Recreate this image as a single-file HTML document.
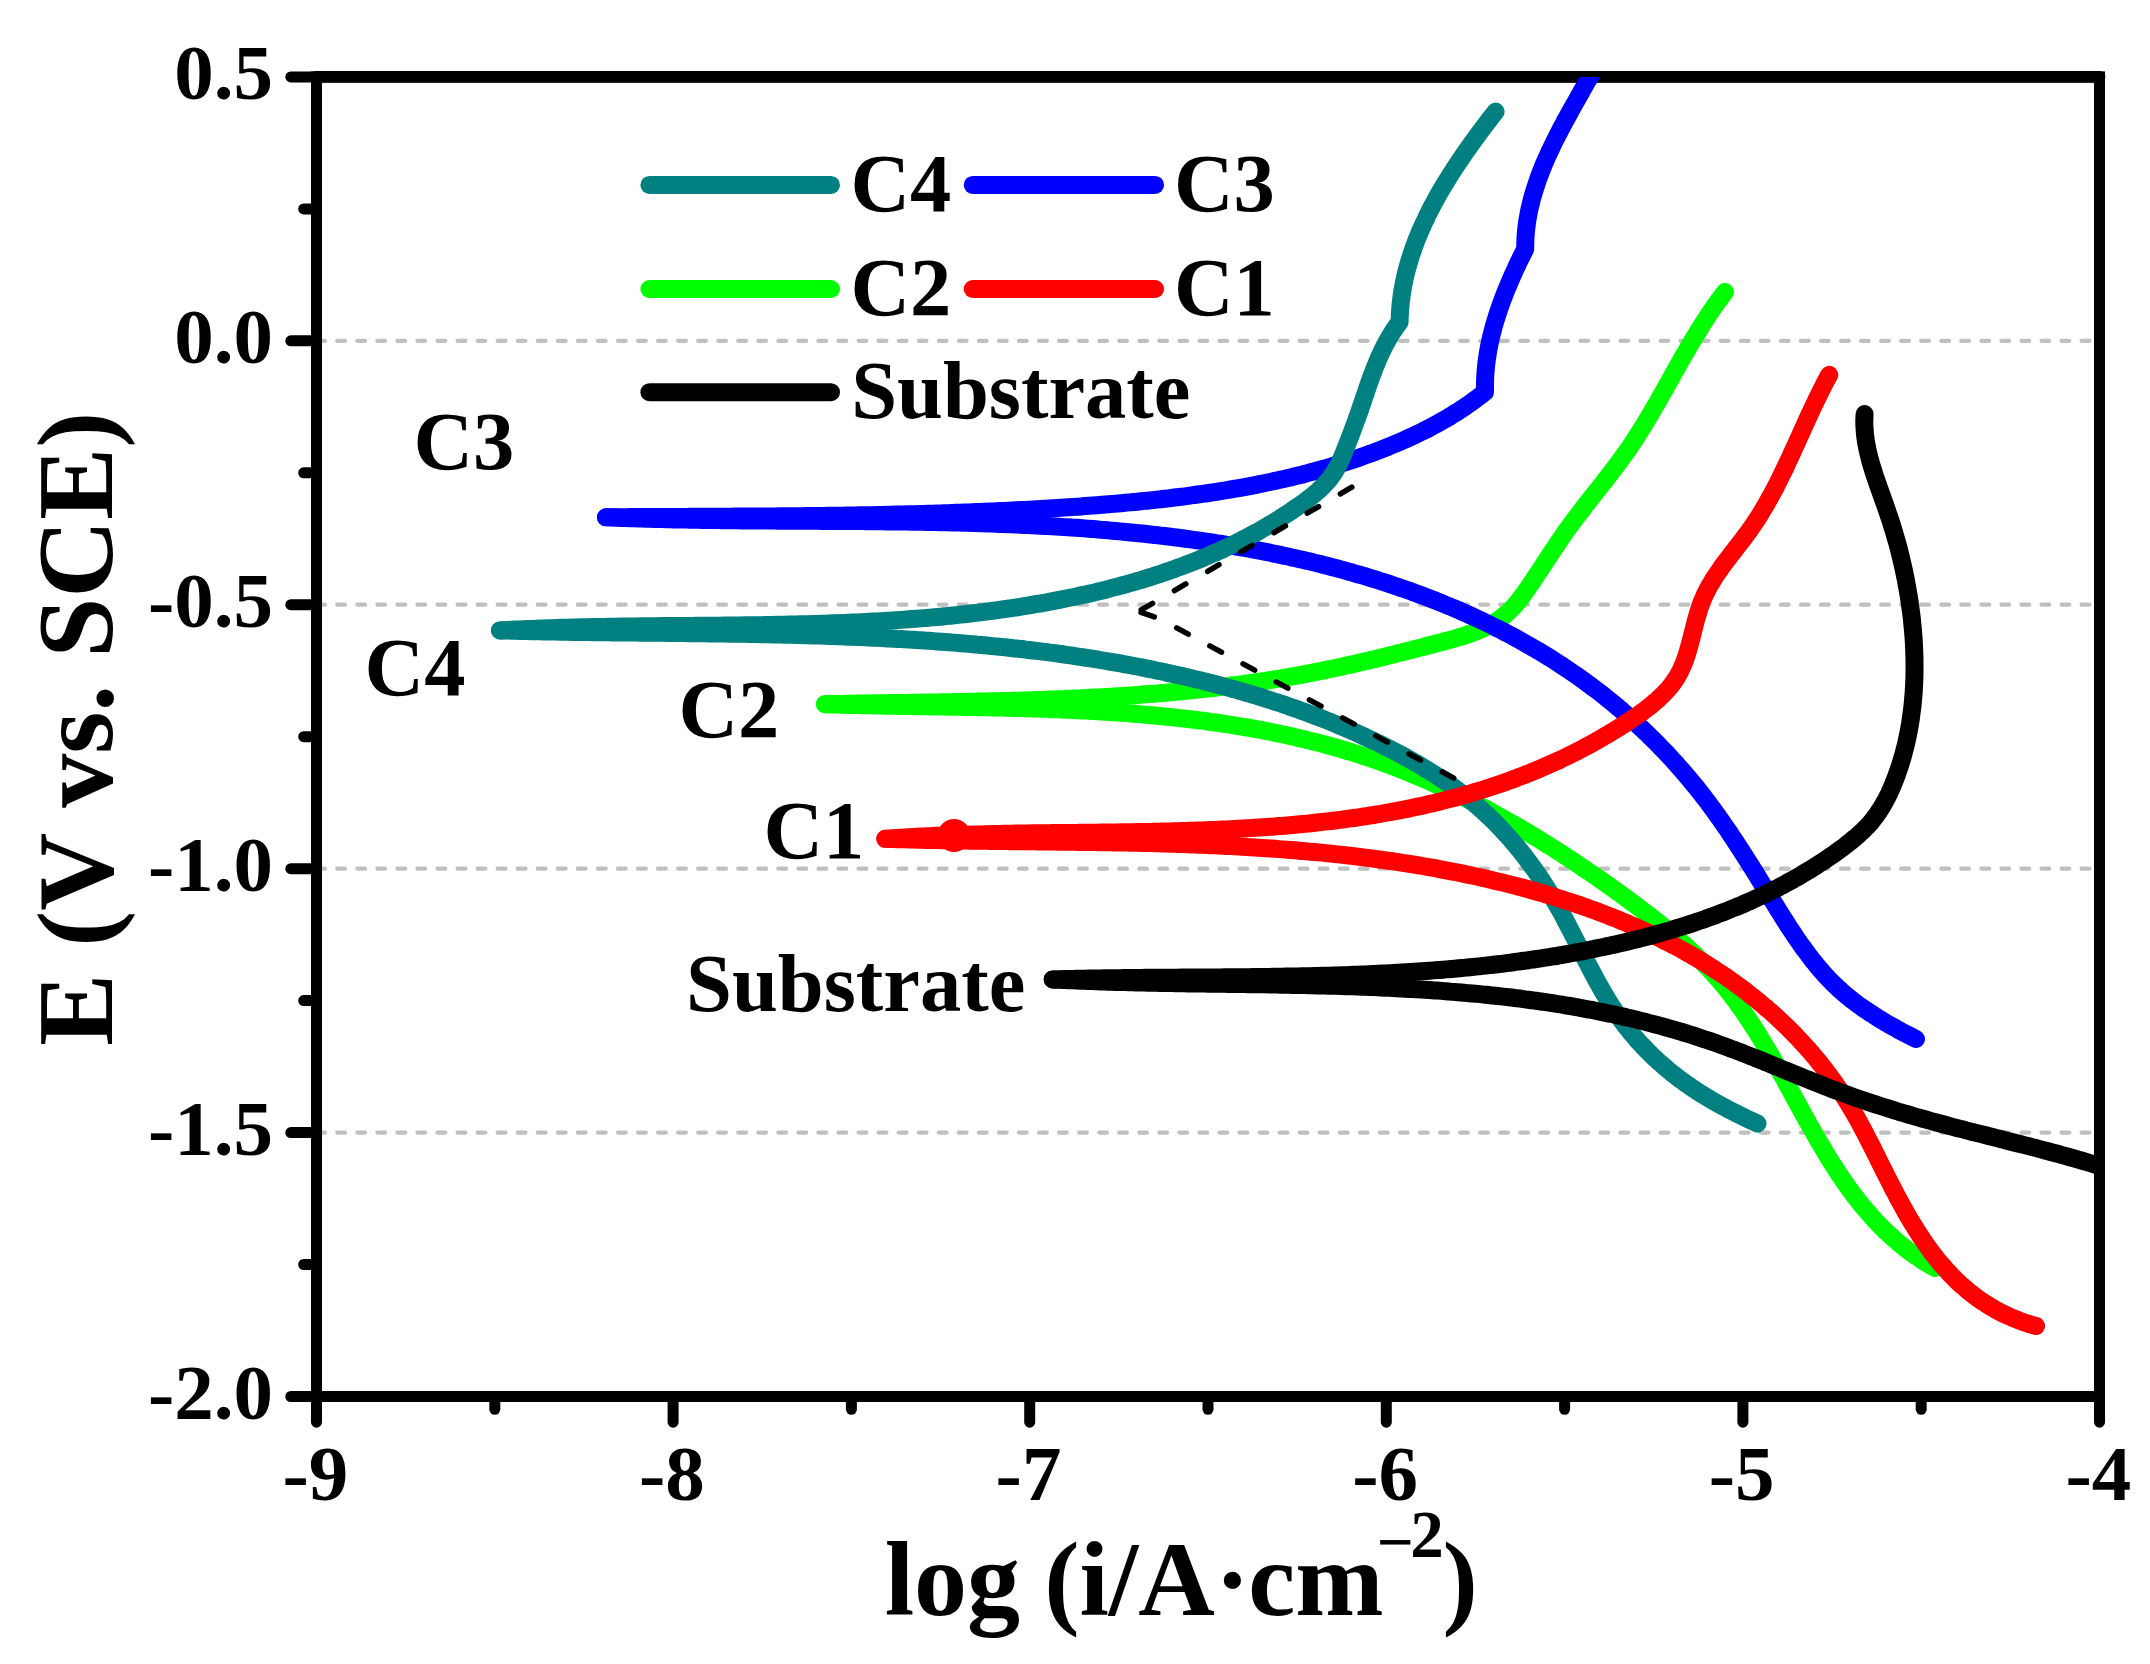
<!DOCTYPE html>
<html lang="en"><head><meta charset="utf-8"><title>Polarization curves</title>
<style>
html,body{margin:0;padding:0;background:#fff;}
body{width:2150px;height:1664px;overflow:hidden;}
svg{display:block;}
text{font-family:"Liberation Serif","Times New Roman",serif;font-weight:bold;fill:#000;}
.tk{font-size:79px;}
.lb{font-size:82.5px;}
.ax{font-size:108px;}
</style></head><body>
<svg width="2150" height="1664" viewBox="0 0 2150 1664">
<rect width="2150" height="1664" fill="#fff"/>

<g stroke="#c0c0c0" stroke-width="4.2" stroke-linecap="round" stroke-dasharray="7.8 12.25" fill="none">
<path d="M317.2 340.8 H2092.5"/>
<path d="M317.2 604.7 H2092.5"/>
<path d="M317.2 868.7 H2092.5"/>
<path d="M317.2 1132.6 H2092.5"/>
</g>
<g fill="none" stroke="#000" stroke-width="11" stroke-linecap="round">
<rect x="316.5" y="76.9" width="1783.0" height="1319.6" stroke-linejoin="miter"/>
<path d="M316.5 76.85 H2099.5" stroke-width="11.9"/>
<path d="M316.5 76.9 H290.8"/>
<path d="M316.5 208.9 H303.7"/>
<path d="M316.5 340.8 H290.8"/>
<path d="M316.5 472.8 H303.7"/>
<path d="M316.5 604.7 H290.8"/>
<path d="M316.5 736.7 H303.7"/>
<path d="M316.5 868.7 H290.8"/>
<path d="M316.5 1000.6 H303.7"/>
<path d="M316.5 1132.6 H290.8"/>
<path d="M316.5 1264.5 H303.7"/>
<path d="M316.5 1396.5 H290.8"/>
<path d="M316.5 1396.5 V1422.2"/>
<path d="M494.8 1396.5 V1409.3"/>
<path d="M673.1 1396.5 V1422.2"/>
<path d="M851.4 1396.5 V1409.3"/>
<path d="M1029.7 1396.5 V1422.2"/>
<path d="M1208.0 1396.5 V1409.3"/>
<path d="M1386.3 1396.5 V1422.2"/>
<path d="M1564.6 1396.5 V1409.3"/>
<path d="M1742.9 1396.5 V1422.2"/>
<path d="M1921.2 1396.5 V1409.3"/>
<path d="M2099.5 1396.5 V1422.2"/>
</g>
<defs><clipPath id="pc"><rect x="316.5" y="76.9" width="1783.0" height="1319.6"/></clipPath></defs>
<g clip-path="url(#pc)" fill="none" stroke-width="18" stroke-linecap="round" stroke-linejoin="round">
<g stroke="#00ff00"><path d="M1725.0 292.0 C1723.4 294.1 1723.3 294.1 1720.2 298.4 C1717.0 302.7 1718.6 300.5 1715.5 304.9 C1712.4 309.2 1713.9 307.0 1710.9 311.5 C1707.9 315.9 1709.4 313.7 1706.5 318.1 C1703.5 322.6 1705.0 320.3 1702.1 324.9 C1699.3 329.4 1700.7 327.1 1697.9 331.7 C1695.1 336.2 1696.5 333.9 1693.7 338.5 C1691.0 343.1 1692.3 340.8 1689.6 345.4 C1686.9 350.0 1688.3 347.7 1685.6 352.4 C1682.9 357.0 1684.2 354.7 1681.6 359.3 C1678.9 364.0 1680.3 361.7 1677.6 366.3 C1675.0 371.0 1676.3 368.7 1673.7 373.3 C1671.1 378.0 1672.4 375.7 1669.8 380.4 C1667.1 385.0 1668.5 382.7 1665.8 387.4 C1663.2 392.1 1664.5 389.7 1661.9 394.4 C1659.3 399.0 1660.6 396.7 1657.9 401.4 C1655.3 406.0 1656.6 403.7 1653.9 408.3 C1651.2 413.0 1652.6 410.7 1649.8 415.3 C1647.1 419.9 1648.5 417.6 1645.7 422.1 C1643.0 426.7 1644.4 424.4 1641.5 429.0 C1638.7 433.5 1640.1 431.3 1637.2 435.8 C1634.4 440.2 1635.8 438.0 1632.9 442.5 C1629.9 446.9 1631.4 444.7 1628.4 449.1 C1625.3 453.5 1626.9 451.3 1623.8 455.6 C1620.7 460.0 1622.2 457.8 1619.0 462.1 C1615.9 466.4 1617.5 464.3 1614.2 468.5 C1611.0 472.8 1612.6 470.6 1609.4 474.9 C1606.1 479.1 1607.7 477.0 1604.4 481.2 C1601.1 485.4 1602.8 483.3 1599.5 487.5 C1596.2 491.7 1597.8 489.6 1594.5 493.8 C1591.2 498.0 1592.8 495.9 1589.5 500.1 C1586.2 504.3 1587.9 502.2 1584.6 506.4 C1581.3 510.7 1582.9 508.6 1579.7 512.8 C1576.4 517.1 1578.0 514.9 1574.8 519.2 C1571.6 523.5 1573.2 521.3 1570.0 525.7 C1566.9 530.0 1568.4 527.8 1565.3 532.2 C1562.3 536.6 1563.8 534.4 1560.8 538.8 C1557.7 543.2 1559.2 541.0 1556.3 545.5 C1553.3 549.9 1554.8 547.7 1551.8 552.2 C1548.9 556.6 1550.3 554.4 1547.4 558.9 C1544.5 563.3 1545.9 561.1 1543.0 565.6 C1540.1 570.1 1541.5 567.8 1538.6 572.3 C1535.6 576.7 1537.1 574.5 1534.1 579.0 C1531.2 583.4 1532.7 581.2 1529.6 585.6 C1526.6 590.0 1528.2 587.8 1525.1 592.1 C1522.0 596.4 1523.6 594.3 1520.4 598.5 C1517.1 602.7 1518.8 600.7 1515.4 604.6 C1512.0 608.6 1513.8 606.7 1510.0 610.3 C1506.3 614.0 1508.3 612.2 1504.3 615.5 C1500.3 618.8 1502.3 617.2 1498.1 620.1 C1493.8 623.1 1496.0 621.7 1491.5 624.2 C1487.0 626.8 1489.3 625.6 1484.5 627.8 C1479.8 630.1 1482.2 629.0 1477.3 631.0 C1472.3 633.0 1474.8 632.0 1469.8 633.8 C1464.7 635.6 1467.2 634.7 1462.1 636.3 C1456.9 637.9 1459.5 637.1 1454.3 638.6 C1449.0 640.1 1451.6 639.4 1446.4 640.8 C1441.1 642.3 1443.7 641.5 1438.4 642.9 C1433.2 644.3 1435.8 643.6 1430.5 645.0 C1425.3 646.4 1427.9 645.7 1422.6 647.1 C1417.4 648.5 1420.0 647.8 1414.8 649.1 C1409.5 650.5 1412.1 649.8 1406.9 651.1 C1401.6 652.5 1404.3 651.8 1399.0 653.1 C1393.8 654.4 1396.4 653.8 1391.2 655.1 C1385.9 656.4 1388.5 655.7 1383.3 657.0 C1378.1 658.3 1380.7 657.7 1375.5 658.9 C1370.2 660.2 1372.9 659.5 1367.6 660.8 C1362.4 662.0 1365.0 661.4 1359.8 662.6 C1354.6 663.8 1357.2 663.2 1352.0 664.4 C1346.7 665.5 1349.3 665.0 1344.1 666.1 C1338.9 667.2 1341.5 666.7 1336.3 667.8 C1331.1 668.9 1333.7 668.4 1328.4 669.4 C1323.2 670.5 1325.8 670.0 1320.6 671.0 C1315.4 672.1 1318.0 671.6 1312.7 672.6 C1307.5 673.6 1310.1 673.1 1304.9 674.1 C1299.6 675.1 1302.3 674.6 1297.0 675.6 C1291.8 676.5 1294.4 676.0 1289.1 677.0 C1283.9 677.9 1286.5 677.4 1281.2 678.3 C1276.0 679.2 1278.6 678.7 1273.3 679.6 C1268.1 680.4 1270.7 680.0 1265.4 680.8 C1260.2 681.7 1262.8 681.3 1257.5 682.0 C1252.3 682.8 1254.9 682.4 1249.6 683.2 C1244.3 683.9 1247.0 683.6 1241.7 684.3 C1236.4 685.0 1239.0 684.7 1233.7 685.3 C1228.5 686.0 1231.1 685.7 1225.8 686.4 C1220.5 687.0 1223.2 686.7 1217.9 687.3 C1212.5 688.0 1215.2 687.7 1209.9 688.3 C1204.6 688.9 1207.2 688.6 1201.9 689.1 C1196.6 689.7 1199.3 689.4 1194.0 690.0 C1188.6 690.5 1191.3 690.3 1186.0 690.8 C1180.7 691.3 1183.3 691.1 1178.0 691.6 C1172.7 692.1 1175.3 691.8 1170.0 692.3 C1164.7 692.8 1167.4 692.5 1162.0 693.0 C1156.7 693.5 1159.4 693.2 1154.0 693.7 C1148.7 694.1 1151.4 693.9 1146.0 694.3 C1140.7 694.7 1143.4 694.5 1138.0 694.9 C1132.7 695.3 1135.4 695.1 1130.0 695.5 C1124.7 695.8 1127.3 695.6 1122.0 696.0 C1116.7 696.3 1119.3 696.2 1114.0 696.5 C1108.6 696.8 1111.3 696.7 1106.0 697.0 C1100.6 697.3 1103.3 697.1 1097.9 697.4 C1092.6 697.7 1095.3 697.6 1089.9 697.8 C1084.6 698.1 1087.2 698.0 1081.9 698.2 C1076.5 698.5 1079.2 698.4 1073.8 698.6 C1068.5 698.9 1071.2 698.7 1065.8 699.0 C1060.4 699.2 1063.1 699.1 1057.8 699.3 C1052.4 699.5 1055.1 699.4 1049.7 699.6 C1044.4 699.8 1047.1 699.7 1041.7 699.9 C1036.3 700.1 1039.0 700.0 1033.6 700.2 C1028.3 700.3 1031.0 700.3 1025.6 700.4 C1020.2 700.6 1022.9 700.5 1017.6 700.7 C1012.2 700.8 1014.9 700.7 1009.5 700.9 C1004.2 701.0 1006.8 701.0 1001.5 701.1 C996.1 701.2 998.8 701.2 993.4 701.3 C988.1 701.4 990.8 701.3 985.4 701.5 C980.0 701.6 982.7 701.5 977.3 701.6 C972.0 701.7 974.7 701.7 969.3 701.8 C963.9 701.9 966.6 701.9 961.3 702.0 C955.9 702.1 958.6 702.0 953.2 702.1 C947.9 702.2 950.5 702.1 945.2 702.2 C939.8 702.3 942.5 702.3 937.2 702.4 C931.8 702.5 934.5 702.4 929.1 702.5 C923.8 702.6 926.4 702.5 921.1 702.6 C915.7 702.7 918.4 702.7 913.1 702.7 C907.7 702.8 910.4 702.8 905.0 702.9 C899.7 702.9 902.4 702.9 897.0 703.0 C891.7 703.1 894.3 703.0 889.0 703.1 C883.7 703.2 886.3 703.1 881.0 703.2 C875.6 703.3 878.3 703.3 873.0 703.3 C867.6 703.4 870.3 703.4 865.0 703.5 C859.6 703.6 862.3 703.5 857.0 703.6 C851.6 703.7 854.3 703.6 849.0 703.7 C843.6 703.8 846.3 703.8 841.0 703.9 C835.6 704.0 838.3 703.9 833.0 704.0 C827.7 704.1 827.7 704.1 825.0 704.2"/><path d="M825.0 704.2 C827.6 704.3 827.6 704.3 832.9 704.4 C838.1 704.6 835.5 704.5 840.7 704.7 C846.0 704.8 843.3 704.7 848.6 704.9 C853.9 705.0 851.2 704.9 856.5 705.1 C861.8 705.2 859.1 705.1 864.4 705.2 C869.7 705.4 867.1 705.3 872.4 705.4 C877.7 705.5 875.0 705.5 880.3 705.6 C885.6 705.7 883.0 705.6 888.3 705.7 C893.6 705.8 890.9 705.8 896.2 705.8 C901.6 705.9 898.9 705.9 904.2 706.0 C909.5 706.1 906.9 706.0 912.2 706.1 C917.5 706.2 914.9 706.1 920.2 706.2 C925.6 706.3 922.9 706.3 928.2 706.3 C933.6 706.4 930.9 706.4 936.3 706.5 C941.6 706.5 938.9 706.5 944.3 706.6 C949.6 706.7 947.0 706.6 952.3 706.7 C957.7 706.8 955.0 706.7 960.4 706.8 C965.7 706.9 963.1 706.9 968.4 707.0 C973.8 707.1 971.1 707.0 976.5 707.1 C981.9 707.2 979.2 707.2 984.6 707.3 C989.9 707.4 987.2 707.3 992.6 707.4 C998.0 707.5 995.3 707.5 1000.7 707.6 C1006.1 707.7 1003.4 707.7 1008.8 707.8 C1014.2 707.9 1011.5 707.9 1016.9 708.0 C1022.2 708.1 1019.6 708.1 1024.9 708.2 C1030.3 708.4 1027.6 708.3 1033.0 708.5 C1038.4 708.6 1035.7 708.5 1041.1 708.7 C1046.5 708.9 1043.8 708.8 1049.2 709.0 C1054.6 709.2 1051.9 709.1 1057.3 709.3 C1062.7 709.5 1060.0 709.4 1065.4 709.7 C1070.8 709.9 1068.1 709.8 1073.5 710.0 C1078.8 710.3 1076.1 710.1 1081.5 710.4 C1086.9 710.7 1084.2 710.5 1089.6 710.8 C1095.0 711.1 1092.3 711.0 1097.7 711.3 C1103.1 711.6 1100.4 711.4 1105.8 711.8 C1111.1 712.1 1108.5 711.9 1113.8 712.3 C1119.2 712.6 1116.5 712.4 1121.9 712.8 C1127.3 713.2 1124.6 713.0 1129.9 713.4 C1135.3 713.8 1132.6 713.6 1138.0 714.1 C1143.3 714.5 1140.7 714.3 1146.0 714.7 C1151.4 715.2 1148.7 715.0 1154.1 715.4 C1159.4 715.9 1156.7 715.7 1162.1 716.2 C1167.4 716.7 1164.8 716.5 1170.1 717.0 C1175.4 717.6 1172.8 717.3 1178.1 717.9 C1183.4 718.5 1180.8 718.2 1186.1 718.8 C1191.4 719.4 1188.8 719.1 1194.1 719.7 C1199.4 720.4 1196.7 720.0 1202.0 720.7 C1207.4 721.4 1204.7 721.1 1210.0 721.8 C1215.3 722.5 1212.7 722.1 1217.9 722.9 C1223.2 723.7 1220.6 723.3 1225.9 724.1 C1231.2 724.9 1228.5 724.5 1233.8 725.3 C1239.1 726.1 1236.4 725.7 1241.7 726.6 C1247.0 727.5 1244.3 727.0 1249.6 727.9 C1254.8 728.9 1252.2 728.4 1257.5 729.4 C1262.7 730.3 1260.1 729.8 1265.3 730.8 C1270.5 731.8 1267.9 731.3 1273.1 732.4 C1278.4 733.4 1275.8 732.9 1281.0 734.0 C1286.2 735.1 1283.6 734.5 1288.8 735.7 C1293.9 736.8 1291.4 736.2 1296.5 737.4 C1301.7 738.6 1299.1 738.0 1304.3 739.3 C1309.5 740.5 1306.9 739.9 1312.0 741.2 C1317.2 742.5 1314.6 741.8 1319.7 743.1 C1324.9 744.5 1322.3 743.8 1327.4 745.2 C1332.6 746.6 1330.0 745.9 1335.1 747.3 C1340.2 748.8 1337.7 748.0 1342.7 749.6 C1347.8 751.1 1345.3 750.3 1350.4 751.8 C1355.4 753.4 1352.9 752.6 1358.0 754.2 C1363.0 755.8 1360.5 755.0 1365.5 756.7 C1370.6 758.4 1368.1 757.5 1373.1 759.3 C1378.1 761.0 1375.6 760.1 1380.6 761.9 C1385.6 763.7 1383.1 762.8 1388.1 764.6 C1393.1 766.5 1390.6 765.5 1395.6 767.4 C1400.5 769.4 1398.1 768.4 1403.0 770.3 C1408.0 772.3 1405.5 771.3 1410.4 773.3 C1415.3 775.4 1412.9 774.3 1417.8 776.4 C1422.7 778.5 1420.3 777.4 1425.2 779.6 C1430.0 781.7 1427.6 780.6 1432.5 782.8 C1437.4 785.0 1434.9 783.9 1439.8 786.1 C1444.6 788.3 1442.2 787.2 1447.1 789.5 C1451.9 791.7 1449.5 790.6 1454.3 792.9 C1459.1 795.2 1456.7 794.1 1461.5 796.4 C1466.3 798.8 1463.9 797.6 1468.7 800.0 C1473.5 802.4 1471.1 801.2 1475.9 803.7 C1480.6 806.2 1478.2 804.9 1483.0 807.4 C1487.7 809.9 1485.4 808.7 1490.1 811.2 C1494.8 813.8 1492.5 812.5 1497.2 815.1 C1501.9 817.7 1499.5 816.4 1504.2 819.0 C1508.9 821.6 1506.5 820.3 1511.2 823.0 C1515.9 825.6 1513.6 824.3 1518.2 827.0 C1522.8 829.7 1520.5 828.3 1525.2 831.1 C1529.8 833.8 1527.5 832.4 1532.1 835.2 C1536.7 838.0 1534.4 836.6 1539.0 839.4 C1543.6 842.2 1541.3 840.8 1545.8 843.7 C1550.4 846.5 1548.1 845.1 1552.7 848.0 C1557.2 850.8 1555.0 849.4 1559.5 852.3 C1564.0 855.2 1561.8 853.7 1566.3 856.7 C1570.8 859.6 1568.5 858.1 1573.0 861.1 C1577.5 864.1 1575.3 862.6 1579.7 865.6 C1584.2 868.6 1582.0 867.1 1586.4 870.1 C1590.9 873.1 1588.6 871.6 1593.1 874.6 C1597.5 877.7 1595.3 876.2 1599.7 879.2 C1604.1 882.3 1601.9 880.8 1606.3 883.9 C1610.7 886.9 1608.5 885.4 1612.8 888.5 C1617.2 891.6 1615.0 890.1 1619.4 893.2 C1623.7 896.3 1621.6 894.8 1625.9 897.9 C1630.2 901.1 1628.0 899.5 1632.3 902.7 C1636.6 905.9 1634.5 904.3 1638.8 907.5 C1643.0 910.7 1640.9 909.1 1645.1 912.3 C1649.4 915.5 1647.3 913.9 1651.5 917.2 C1655.6 920.5 1653.6 918.8 1657.7 922.1 C1661.9 925.5 1659.8 923.8 1663.9 927.2 C1668.0 930.5 1666.0 928.8 1670.0 932.2 C1674.1 935.7 1672.1 933.9 1676.1 937.4 C1680.1 940.9 1678.1 939.1 1682.0 942.6 C1686.0 946.2 1684.0 944.4 1687.9 948.0 C1691.8 951.6 1689.8 949.8 1693.7 953.4 C1697.5 957.1 1695.6 955.2 1699.3 958.9 C1703.1 962.7 1701.2 960.8 1704.9 964.6 C1708.5 968.4 1706.7 966.4 1710.3 970.3 C1713.9 974.2 1712.1 972.2 1715.6 976.2 C1719.1 980.2 1717.4 978.2 1720.8 982.2 C1724.2 986.2 1722.5 984.2 1725.9 988.3 C1729.2 992.4 1727.6 990.4 1730.8 994.6 C1734.0 998.8 1732.4 996.7 1735.6 1000.9 C1738.8 1005.2 1737.2 1003.1 1740.3 1007.4 C1743.4 1011.8 1741.9 1009.6 1744.9 1014.0 C1747.9 1018.4 1746.4 1016.2 1749.4 1020.7 C1752.3 1025.1 1750.9 1022.9 1753.8 1027.4 C1756.7 1031.9 1755.2 1029.7 1758.1 1034.2 C1760.9 1038.8 1759.5 1036.5 1762.3 1041.1 C1765.1 1045.7 1763.7 1043.4 1766.5 1048.1 C1769.3 1052.7 1767.9 1050.4 1770.6 1055.1 C1773.3 1059.7 1772.0 1057.4 1774.6 1062.1 C1777.3 1066.8 1776.0 1064.4 1778.6 1069.1 C1781.3 1073.9 1780.0 1071.5 1782.6 1076.2 C1785.2 1081.0 1783.9 1078.6 1786.5 1083.3 C1789.1 1088.1 1787.8 1085.7 1790.4 1090.4 C1793.0 1095.2 1791.7 1092.8 1794.3 1097.6 C1796.9 1102.3 1795.6 1099.9 1798.2 1104.7 C1800.8 1109.4 1799.5 1107.0 1802.1 1111.8 C1804.7 1116.5 1803.4 1114.1 1806.0 1118.8 C1808.6 1123.6 1807.3 1121.2 1809.9 1125.9 C1812.6 1130.6 1811.2 1128.2 1813.9 1132.9 C1816.5 1137.6 1815.2 1135.2 1817.9 1139.9 C1820.6 1144.5 1819.2 1142.2 1822.0 1146.8 C1824.7 1151.4 1823.3 1149.1 1826.1 1153.7 C1828.8 1158.2 1827.4 1156.0 1830.2 1160.5 C1833.1 1165.0 1831.6 1162.7 1834.5 1167.2 C1837.4 1171.7 1835.9 1169.4 1838.9 1173.9 C1841.8 1178.3 1840.3 1176.1 1843.3 1180.4 C1846.3 1184.8 1844.8 1182.6 1847.9 1186.9 C1850.9 1191.2 1849.4 1189.1 1852.5 1193.3 C1855.7 1197.5 1854.1 1195.4 1857.3 1199.5 C1860.5 1203.7 1858.9 1201.6 1862.2 1205.7 C1865.6 1209.8 1863.9 1207.8 1867.3 1211.7 C1870.7 1215.7 1869.0 1213.7 1872.5 1217.6 C1876.0 1221.5 1874.2 1219.6 1877.9 1223.4 C1881.5 1227.2 1879.7 1225.3 1883.4 1229.0 C1887.2 1232.7 1885.3 1230.9 1889.2 1234.5 C1893.0 1238.1 1891.1 1236.3 1895.1 1239.8 C1899.1 1243.3 1897.0 1241.6 1901.2 1245.0 C1905.3 1248.4 1903.2 1246.7 1907.5 1250.0 C1911.8 1253.2 1909.6 1251.6 1914.0 1254.8 C1918.5 1257.9 1916.2 1256.4 1920.8 1259.4 C1925.4 1262.4 1923.0 1260.9 1927.8 1263.8 C1932.5 1266.7 1932.6 1266.6 1935.0 1268.0"/></g>
<g stroke="#0000ff"><path d="M1598.0 62.0 C1596.7 64.3 1596.8 64.3 1594.2 69.0 C1591.6 73.7 1592.9 71.3 1590.3 76.0 C1587.7 80.7 1589.0 78.4 1586.3 83.1 C1583.7 87.8 1585.0 85.4 1582.3 90.1 C1579.7 94.9 1581.0 92.5 1578.3 97.2 C1575.7 102.0 1577.0 99.6 1574.3 104.3 C1571.7 109.1 1573.0 106.7 1570.3 111.5 C1567.7 116.2 1569.0 113.9 1566.4 118.6 C1563.8 123.4 1565.1 121.0 1562.5 125.9 C1559.9 130.7 1561.2 128.3 1558.7 133.1 C1556.2 138.0 1557.4 135.5 1555.0 140.4 C1552.6 145.3 1553.8 142.8 1551.4 147.8 C1549.1 152.7 1550.2 150.2 1548.0 155.1 C1545.8 160.1 1546.8 157.6 1544.7 162.6 C1542.6 167.6 1543.6 165.1 1541.6 170.1 C1539.6 175.1 1540.6 172.6 1538.7 177.7 C1536.9 182.7 1537.8 180.2 1536.1 185.3 C1534.4 190.4 1535.2 187.8 1533.7 193.0 C1532.1 198.1 1532.8 195.5 1531.5 200.7 C1530.2 205.9 1530.8 203.3 1529.6 208.6 C1528.5 213.8 1529.0 211.2 1528.1 216.5 C1527.1 221.8 1527.5 219.1 1526.8 224.5 C1526.1 229.9 1526.4 227.2 1525.9 232.6 C1525.4 238.0 1525.6 235.3 1525.4 240.7 C1525.1 246.2 1525.3 246.2 1525.2 249.0 C1524.0 251.5 1523.9 251.5 1521.5 256.5 C1519.0 261.5 1520.2 259.0 1517.8 264.0 C1515.5 269.0 1516.6 266.5 1514.3 271.6 C1512.0 276.7 1513.1 274.1 1510.9 279.3 C1508.7 284.4 1509.8 281.8 1507.6 287.0 C1505.5 292.1 1506.5 289.5 1504.5 294.7 C1502.5 299.9 1503.4 297.3 1501.5 302.6 C1499.6 307.8 1500.5 305.2 1498.8 310.5 C1497.0 315.7 1497.8 313.1 1496.2 318.4 C1494.6 323.7 1495.3 321.0 1493.8 326.4 C1492.4 331.7 1493.1 329.0 1491.7 334.4 C1490.4 339.8 1491.0 337.1 1489.9 342.5 C1488.7 347.9 1489.2 345.2 1488.3 350.6 C1487.3 356.1 1487.8 353.4 1487.0 358.8 C1486.2 364.3 1486.5 361.6 1486.0 367.1 C1485.4 372.6 1485.7 369.8 1485.3 375.3 C1485.0 380.9 1485.1 378.1 1485.0 383.6 C1484.9 389.2 1485.0 389.2 1485.0 392.0 C1482.9 393.6 1483.0 393.7 1478.7 396.9 C1474.5 400.1 1476.6 398.6 1472.3 401.7 C1468.0 404.8 1470.2 403.2 1465.8 406.2 C1461.4 409.2 1463.6 407.8 1459.2 410.6 C1454.7 413.5 1457.0 412.1 1452.4 414.9 C1447.9 417.7 1450.2 416.3 1445.6 419.0 C1441.0 421.6 1443.3 420.3 1438.7 422.9 C1434.0 425.5 1436.3 424.2 1431.6 426.7 C1426.9 429.2 1429.3 428.0 1424.5 430.4 C1419.8 432.8 1422.1 431.6 1417.3 433.9 C1412.5 436.2 1414.9 435.1 1410.1 437.3 C1405.2 439.5 1407.7 438.4 1402.8 440.6 C1397.9 442.7 1400.3 441.7 1395.4 443.8 C1390.5 445.9 1392.9 444.8 1388.0 446.8 C1383.0 448.9 1385.5 447.9 1380.5 449.8 C1375.5 451.7 1378.0 450.8 1373.0 452.7 C1367.9 454.5 1370.4 453.6 1365.4 455.4 C1360.3 457.2 1362.9 456.4 1357.8 458.1 C1352.7 459.8 1355.2 459.0 1350.1 460.7 C1345.0 462.3 1347.6 461.5 1342.4 463.1 C1337.3 464.8 1339.9 464.0 1334.7 465.5 C1329.5 467.1 1332.1 466.3 1326.9 467.8 C1321.8 469.3 1324.4 468.6 1319.2 470.0 C1314.0 471.5 1316.6 470.8 1311.4 472.1 C1306.1 473.5 1308.8 472.8 1303.5 474.2 C1298.3 475.5 1300.9 474.9 1295.7 476.1 C1290.4 477.4 1293.1 476.8 1287.8 478.0 C1282.6 479.2 1285.2 478.6 1279.9 479.8 C1274.7 481.0 1277.3 480.4 1272.1 481.5 C1266.8 482.7 1269.4 482.1 1264.2 483.2 C1258.9 484.3 1261.5 483.8 1256.3 484.8 C1251.0 485.8 1253.6 485.3 1248.4 486.3 C1243.1 487.3 1245.7 486.8 1240.4 487.8 C1235.2 488.7 1237.8 488.2 1232.5 489.2 C1227.2 490.1 1229.9 489.6 1224.6 490.5 C1219.3 491.4 1221.9 490.9 1216.6 491.8 C1211.4 492.6 1214.0 492.2 1208.7 493.0 C1203.4 493.8 1206.0 493.4 1200.7 494.1 C1195.4 494.9 1198.1 494.5 1192.8 495.2 C1187.5 496.0 1190.1 495.6 1184.8 496.3 C1179.5 497.0 1182.2 496.7 1176.8 497.3 C1171.5 498.0 1174.2 497.6 1168.9 498.3 C1163.5 498.9 1166.2 498.6 1160.9 499.2 C1155.6 499.8 1158.2 499.5 1152.9 500.1 C1147.6 500.6 1150.2 500.4 1144.9 500.9 C1139.6 501.4 1142.2 501.2 1136.9 501.7 C1131.6 502.2 1134.2 502.0 1128.9 502.4 C1123.6 502.9 1126.2 502.7 1120.9 503.2 C1115.5 503.6 1118.2 503.4 1112.9 503.9 C1107.5 504.3 1110.2 504.1 1104.9 504.5 C1099.5 505.0 1102.2 504.8 1096.8 505.2 C1091.5 505.6 1094.2 505.4 1088.8 505.8 C1083.5 506.2 1086.2 506.0 1080.8 506.4 C1075.5 506.7 1078.1 506.6 1072.8 506.9 C1067.4 507.3 1070.1 507.1 1064.8 507.5 C1059.4 507.8 1062.1 507.6 1056.7 508.0 C1051.4 508.3 1054.0 508.2 1048.7 508.5 C1043.3 508.8 1046.0 508.7 1040.7 509.0 C1035.3 509.3 1038.0 509.1 1032.6 509.4 C1027.3 509.7 1029.9 509.6 1024.6 509.9 C1019.2 510.2 1021.9 510.0 1016.6 510.3 C1011.2 510.6 1013.9 510.4 1008.5 510.7 C1003.2 511.0 1005.8 510.8 1000.5 511.1 C995.1 511.3 997.8 511.2 992.4 511.4 C987.1 511.7 989.7 511.6 984.4 511.8 C979.0 512.0 981.7 511.9 976.3 512.1 C971.0 512.3 973.7 512.2 968.3 512.4 C962.9 512.6 965.6 512.5 960.2 512.7 C954.9 512.9 957.6 512.8 952.2 513.0 C946.8 513.2 949.5 513.1 944.1 513.3 C938.8 513.5 941.5 513.4 936.1 513.6 C930.7 513.7 933.4 513.6 928.0 513.8 C922.7 514.0 925.4 513.9 920.0 514.0 C914.6 514.2 917.3 514.1 911.9 514.2 C906.6 514.4 909.2 514.3 903.9 514.5 C898.5 514.6 901.2 514.5 895.8 514.6 C890.5 514.8 893.1 514.7 887.8 514.8 C882.4 514.9 885.1 514.9 879.7 515.0 C874.3 515.1 877.0 515.0 871.7 515.2 C866.3 515.3 869.0 515.2 863.6 515.3 C858.2 515.4 860.9 515.3 855.5 515.4 C850.2 515.5 852.9 515.5 847.5 515.6 C842.1 515.6 844.8 515.6 839.4 515.7 C834.1 515.8 836.7 515.7 831.4 515.8 C826.0 515.9 828.7 515.8 823.3 515.9 C817.9 516.0 820.6 515.9 815.3 516.0 C809.9 516.1 812.6 516.0 807.2 516.1 C801.8 516.1 804.5 516.1 799.1 516.2 C793.8 516.2 796.5 516.2 791.1 516.2 C785.7 516.3 788.4 516.3 783.0 516.3 C777.7 516.4 780.3 516.3 775.0 516.4 C769.6 516.4 772.3 516.4 766.9 516.4 C761.5 516.5 764.2 516.5 758.9 516.5 C753.5 516.5 756.2 516.5 750.8 516.5 C745.4 516.6 748.1 516.6 742.7 516.6 C737.4 516.6 740.1 516.6 734.7 516.6 C729.3 516.7 732.0 516.6 726.6 516.7 C721.3 516.7 724.0 516.7 718.6 516.7 C713.2 516.7 715.9 516.7 710.5 516.8 C705.2 516.8 707.9 516.8 702.5 516.8 C697.1 516.8 699.8 516.8 694.4 516.8 C689.1 516.8 691.8 516.8 686.4 516.9 C681.0 516.9 683.7 516.9 678.3 516.9 C673.0 516.9 675.7 516.9 670.3 516.9 C664.9 517.0 667.6 516.9 662.3 517.0 C656.9 517.0 659.6 517.0 654.2 517.0 C648.9 517.0 651.5 517.0 646.2 517.1 C640.8 517.1 643.5 517.1 638.1 517.1 C632.8 517.1 635.5 517.1 630.1 517.1 C624.7 517.2 627.4 517.2 622.1 517.2 C616.7 517.2 619.4 517.2 614.0 517.2 C608.7 517.3 608.7 517.3 606.0 517.3"/><path d="M606.0 517.3 C608.7 517.4 608.6 517.4 614.0 517.6 C619.3 517.8 616.6 517.7 621.9 517.9 C627.2 518.1 624.6 518.0 629.9 518.2 C635.2 518.4 632.5 518.3 637.8 518.5 C643.2 518.6 640.5 518.6 645.8 518.7 C651.1 518.9 648.5 518.8 653.8 518.9 C659.1 519.1 656.5 519.0 661.8 519.1 C667.1 519.3 664.5 519.2 669.8 519.3 C675.1 519.4 672.4 519.4 677.8 519.5 C683.1 519.6 680.4 519.5 685.8 519.6 C691.1 519.7 688.5 519.7 693.8 519.8 C699.1 519.9 696.5 519.8 701.8 519.9 C707.2 520.0 704.5 520.0 709.8 520.0 C715.2 520.1 712.5 520.1 717.9 520.1 C723.2 520.2 720.5 520.2 725.9 520.2 C731.2 520.3 728.6 520.3 733.9 520.3 C739.3 520.4 736.6 520.3 741.9 520.4 C747.3 520.4 744.6 520.4 750.0 520.5 C755.3 520.5 752.7 520.5 758.0 520.5 C763.4 520.6 760.7 520.5 766.1 520.6 C771.4 520.6 768.8 520.6 774.1 520.6 C779.5 520.7 776.8 520.6 782.2 520.7 C787.5 520.7 784.9 520.7 790.2 520.7 C795.6 520.7 792.9 520.7 798.3 520.8 C803.7 520.8 801.0 520.8 806.3 520.8 C811.7 520.8 809.0 520.8 814.4 520.8 C819.8 520.9 817.1 520.9 822.5 520.9 C827.8 520.9 825.2 520.9 830.5 520.9 C835.9 521.0 833.2 520.9 838.6 521.0 C844.0 521.0 841.3 521.0 846.7 521.0 C852.1 521.1 849.4 521.0 854.7 521.1 C860.1 521.1 857.4 521.1 862.8 521.1 C868.2 521.2 865.5 521.2 870.9 521.2 C876.3 521.2 873.6 521.2 879.0 521.3 C884.3 521.3 881.6 521.3 887.0 521.4 C892.4 521.4 889.7 521.4 895.1 521.4 C900.5 521.5 897.8 521.5 903.2 521.5 C908.6 521.6 905.9 521.6 911.2 521.7 C916.6 521.7 913.9 521.7 919.3 521.8 C924.7 521.9 922.0 521.8 927.4 521.9 C932.8 522.0 930.1 522.0 935.5 522.1 C940.8 522.2 938.1 522.1 943.5 522.2 C948.9 522.3 946.2 522.3 951.6 522.4 C957.0 522.5 954.3 522.5 959.7 522.6 C965.0 522.7 962.3 522.7 967.7 522.8 C973.1 523.0 970.4 522.9 975.8 523.0 C981.2 523.2 978.5 523.1 983.9 523.3 C989.2 523.5 986.5 523.4 991.9 523.6 C997.3 523.8 994.6 523.7 1000.0 523.9 C1005.3 524.1 1002.7 524.0 1008.0 524.2 C1013.4 524.4 1010.7 524.3 1016.1 524.5 C1021.4 524.7 1018.8 524.6 1024.1 524.9 C1029.5 525.1 1026.8 525.0 1032.2 525.3 C1037.5 525.5 1034.9 525.4 1040.2 525.7 C1045.6 525.9 1042.9 525.8 1048.3 526.1 C1053.6 526.4 1050.9 526.2 1056.3 526.6 C1061.6 526.9 1059.0 526.7 1064.3 527.1 C1069.7 527.4 1067.0 527.2 1072.3 527.6 C1077.7 527.9 1075.0 527.8 1080.4 528.1 C1085.7 528.5 1083.0 528.3 1088.4 528.7 C1093.7 529.1 1091.1 528.9 1096.4 529.3 C1101.7 529.8 1099.1 529.6 1104.4 530.0 C1109.8 530.4 1107.1 530.2 1112.4 530.7 C1117.8 531.2 1115.1 530.9 1120.4 531.4 C1125.8 531.9 1123.1 531.6 1128.4 532.2 C1133.7 532.7 1131.1 532.4 1136.4 533.0 C1141.7 533.5 1139.1 533.2 1144.4 533.8 C1149.7 534.4 1147.0 534.1 1152.4 534.7 C1157.7 535.3 1155.0 534.9 1160.3 535.6 C1165.6 536.2 1163.0 535.9 1168.3 536.5 C1173.6 537.2 1171.0 536.8 1176.3 537.5 C1181.6 538.2 1178.9 537.8 1184.2 538.5 C1189.5 539.3 1186.9 538.9 1192.1 539.6 C1197.4 540.4 1194.8 540.0 1200.1 540.7 C1205.4 541.5 1202.7 541.1 1208.0 541.9 C1213.3 542.7 1210.7 542.3 1215.9 543.1 C1221.2 544.0 1218.6 543.5 1223.9 544.4 C1229.1 545.2 1226.5 544.8 1231.8 545.7 C1237.0 546.6 1234.4 546.1 1239.7 547.1 C1244.9 548.0 1242.3 547.5 1247.5 548.5 C1252.8 549.4 1250.2 548.9 1255.4 549.9 C1260.7 550.9 1258.1 550.4 1263.3 551.4 C1268.5 552.5 1265.9 551.9 1271.2 553.0 C1276.4 554.1 1273.8 553.5 1279.0 554.6 C1284.3 555.7 1281.6 555.2 1286.9 556.3 C1292.1 557.4 1289.5 556.9 1294.7 558.0 C1299.9 559.2 1297.3 558.6 1302.5 559.8 C1307.7 561.0 1305.1 560.4 1310.3 561.6 C1315.5 562.9 1312.9 562.3 1318.1 563.5 C1323.3 564.8 1320.7 564.2 1325.9 565.5 C1331.1 566.8 1328.5 566.2 1333.7 567.5 C1338.9 568.9 1336.3 568.2 1341.5 569.6 C1346.7 571.0 1344.1 570.3 1349.2 571.8 C1354.4 573.2 1351.8 572.5 1357.0 574.0 C1362.1 575.4 1359.5 574.7 1364.7 576.2 C1369.8 577.8 1367.2 577.0 1372.4 578.6 C1377.5 580.1 1374.9 579.3 1380.0 581.0 C1385.1 582.6 1382.6 581.8 1387.7 583.4 C1392.8 585.1 1390.2 584.3 1395.3 586.0 C1400.4 587.7 1397.8 586.8 1402.9 588.6 C1408.0 590.3 1405.4 589.4 1410.5 591.2 C1415.5 593.0 1413.0 592.1 1418.0 594.0 C1423.0 595.8 1420.5 594.9 1425.5 596.8 C1430.5 598.7 1428.0 597.7 1433.0 599.7 C1438.0 601.6 1435.5 600.7 1440.5 602.7 C1445.4 604.7 1443.0 603.6 1447.9 605.7 C1452.8 607.7 1450.4 606.7 1455.3 608.8 C1460.2 610.9 1457.7 609.8 1462.6 612.0 C1467.5 614.1 1465.1 613.0 1469.9 615.3 C1474.8 617.5 1472.4 616.3 1477.2 618.6 C1482.1 620.8 1479.7 619.7 1484.5 622.0 C1489.3 624.3 1486.9 623.2 1491.7 625.5 C1496.5 627.9 1494.1 626.7 1498.8 629.1 C1503.6 631.5 1501.2 630.3 1505.9 632.8 C1510.7 635.2 1508.3 634.0 1513.0 636.5 C1517.7 639.0 1515.4 637.8 1520.0 640.3 C1524.7 642.9 1522.4 641.6 1527.0 644.3 C1531.7 646.9 1529.4 645.6 1534.0 648.3 C1538.6 651.0 1536.3 649.6 1540.9 652.3 C1545.4 655.1 1543.2 653.7 1547.7 656.5 C1552.2 659.3 1550.0 657.9 1554.5 660.8 C1559.0 663.7 1556.7 662.2 1561.2 665.1 C1565.7 668.1 1563.5 666.6 1567.9 669.6 C1572.3 672.6 1570.1 671.1 1574.5 674.1 C1578.9 677.2 1576.7 675.6 1581.1 678.7 C1585.5 681.9 1583.3 680.3 1587.6 683.5 C1591.9 686.6 1589.8 685.0 1594.1 688.3 C1598.3 691.5 1596.2 689.9 1600.5 693.2 C1604.7 696.5 1602.6 694.8 1606.8 698.2 C1611.0 701.6 1608.9 699.9 1613.1 703.3 C1617.2 706.7 1615.2 705.0 1619.3 708.5 C1623.4 712.0 1621.3 710.2 1625.4 713.8 C1629.5 717.3 1627.5 715.5 1631.5 719.1 C1635.5 722.7 1633.5 720.9 1637.5 724.6 C1641.4 728.2 1639.5 726.4 1643.4 730.1 C1647.3 733.8 1645.4 732.0 1649.2 735.7 C1653.1 739.5 1651.2 737.6 1655.0 741.4 C1658.8 745.2 1656.9 743.3 1660.7 747.2 C1664.4 751.1 1662.6 749.1 1666.3 753.0 C1670.0 757.0 1668.2 755.0 1671.8 759.0 C1675.4 762.9 1673.6 760.9 1677.2 764.9 C1680.8 769.0 1679.0 766.9 1682.6 771.0 C1686.1 775.1 1684.3 773.0 1687.8 777.1 C1691.3 781.2 1689.5 779.2 1692.9 783.3 C1696.3 787.4 1694.7 785.4 1698.0 789.5 C1701.3 793.7 1699.7 791.6 1702.9 795.8 C1706.2 800.1 1704.6 797.9 1707.8 802.2 C1711.0 806.5 1709.4 804.3 1712.5 808.6 C1715.7 812.9 1714.1 810.8 1717.2 815.1 C1720.3 819.4 1718.8 817.2 1721.8 821.6 C1724.9 825.9 1723.4 823.8 1726.4 828.1 C1729.4 832.5 1727.9 830.3 1730.8 834.7 C1733.8 839.2 1732.3 836.9 1735.2 841.4 C1738.2 845.8 1736.7 843.6 1739.6 848.1 C1742.5 852.5 1741.1 850.3 1743.9 854.8 C1746.8 859.2 1745.4 857.0 1748.2 861.5 C1751.1 866.0 1749.6 863.7 1752.5 868.3 C1755.3 872.8 1753.9 870.5 1756.7 875.0 C1759.5 879.6 1758.1 877.3 1760.9 881.9 C1763.8 886.4 1762.4 884.1 1765.2 888.7 C1768.0 893.2 1766.6 891.0 1769.4 895.5 C1772.2 900.1 1770.8 897.8 1773.6 902.4 C1776.4 906.9 1775.0 904.7 1777.8 909.2 C1780.7 913.8 1779.3 911.5 1782.1 916.1 C1785.0 920.6 1783.5 918.4 1786.4 922.9 C1789.3 927.4 1787.9 925.2 1790.8 929.7 C1793.8 934.2 1792.3 931.9 1795.3 936.4 C1798.3 940.8 1796.8 938.6 1799.8 943.0 C1802.9 947.4 1801.4 945.2 1804.5 949.5 C1807.7 953.8 1806.1 951.7 1809.3 956.0 C1812.5 960.2 1810.9 958.1 1814.2 962.2 C1817.6 966.4 1815.9 964.4 1819.3 968.4 C1822.7 972.4 1821.0 970.5 1824.5 974.4 C1828.1 978.3 1826.3 976.4 1830.0 980.2 C1833.7 984.0 1831.8 982.1 1835.6 985.8 C1839.5 989.5 1837.5 987.7 1841.5 991.2 C1845.5 994.8 1843.4 993.0 1847.5 996.4 C1851.7 999.8 1849.6 998.2 1853.8 1001.4 C1858.1 1004.7 1855.9 1003.1 1860.3 1006.2 C1864.6 1009.3 1862.4 1007.8 1866.9 1010.8 C1871.4 1013.8 1869.1 1012.3 1873.7 1015.2 C1878.2 1018.2 1875.9 1016.7 1880.5 1019.5 C1885.1 1022.3 1882.8 1021.0 1887.5 1023.7 C1892.2 1026.4 1889.8 1025.0 1894.6 1027.7 C1899.3 1030.3 1896.9 1029.0 1901.7 1031.6 C1906.4 1034.1 1904.1 1032.8 1908.8 1035.3 C1913.6 1037.8 1913.6 1037.8 1916.0 1039.0"/></g>
<g stroke="#008080"><path d="M1495.6 111.6 C1494.0 113.7 1494.0 113.7 1490.7 117.9 C1487.5 122.1 1489.1 120.0 1485.9 124.3 C1482.6 128.5 1484.2 126.4 1481.0 130.7 C1477.8 135.0 1479.4 132.9 1476.2 137.2 C1473.0 141.6 1474.6 139.4 1471.4 143.8 C1468.3 148.2 1469.8 146.0 1466.7 150.4 C1463.6 154.9 1465.1 152.7 1462.1 157.2 C1459.0 161.7 1460.5 159.4 1457.5 163.9 C1454.4 168.5 1455.9 166.2 1453.0 170.8 C1450.0 175.4 1451.5 173.1 1448.6 177.7 C1445.7 182.4 1447.1 180.0 1444.3 184.7 C1441.5 189.4 1442.9 187.0 1440.1 191.8 C1437.4 196.5 1438.7 194.1 1436.1 198.9 C1433.5 203.7 1434.8 201.3 1432.2 206.1 C1429.7 210.9 1430.9 208.5 1428.5 213.3 C1426.1 218.2 1427.3 215.8 1425.0 220.7 C1422.6 225.6 1423.8 223.1 1421.6 228.1 C1419.4 233.0 1420.5 230.5 1418.4 235.5 C1416.4 240.5 1417.3 238.0 1415.4 243.1 C1413.5 248.1 1414.4 245.6 1412.7 250.7 C1410.9 255.7 1411.8 253.2 1410.2 258.3 C1408.5 263.5 1409.3 260.9 1407.9 266.0 C1406.4 271.2 1407.1 268.6 1405.8 273.8 C1404.6 279.1 1405.2 276.4 1404.1 281.7 C1403.0 287.0 1403.5 284.3 1402.6 289.6 C1401.7 294.9 1402.1 292.3 1401.4 297.6 C1400.7 303.0 1401.0 300.3 1400.5 305.7 C1400.0 311.1 1400.2 308.4 1399.9 313.8 C1399.6 319.2 1399.7 319.3 1399.6 322.0 C1398.0 324.2 1397.9 324.1 1394.8 328.6 C1391.8 333.1 1393.2 330.8 1390.5 335.4 C1387.7 339.9 1389.0 337.6 1386.5 342.3 C1384.0 346.9 1385.2 344.6 1382.9 349.3 C1380.5 354.1 1381.7 351.7 1379.5 356.5 C1377.3 361.3 1378.4 358.9 1376.4 363.8 C1374.4 368.7 1375.4 366.2 1373.5 371.2 C1371.6 376.1 1372.5 373.6 1370.7 378.6 C1368.9 383.6 1369.8 381.1 1368.0 386.1 C1366.3 391.2 1367.2 388.6 1365.5 393.7 C1363.7 398.8 1364.6 396.2 1362.9 401.3 C1361.1 406.4 1362.0 403.8 1360.3 408.9 C1358.5 414.0 1359.4 411.5 1357.6 416.6 C1355.8 421.6 1356.7 419.1 1354.8 424.2 C1353.0 429.3 1353.9 426.7 1352.0 431.8 C1350.1 436.9 1351.1 434.3 1349.1 439.4 C1347.1 444.5 1348.1 441.9 1346.1 447.0 C1344.1 452.0 1345.2 449.5 1343.1 454.5 C1341.0 459.5 1342.2 457.1 1339.9 461.9 C1337.6 466.8 1338.9 464.5 1336.2 469.0 C1333.6 473.6 1335.0 471.4 1332.0 475.6 C1329.0 479.9 1330.6 477.8 1327.1 481.8 C1323.7 485.7 1325.5 483.8 1321.7 487.4 C1318.0 491.1 1319.9 489.3 1315.9 492.8 C1311.9 496.2 1313.9 494.5 1309.7 497.8 C1305.5 501.1 1307.6 499.4 1303.3 502.6 C1299.0 505.7 1301.2 504.2 1296.8 507.2 C1292.4 510.3 1294.6 508.8 1290.2 511.7 C1285.8 514.7 1288.0 513.2 1283.5 516.1 C1279.1 519.0 1281.3 517.6 1276.8 520.4 C1272.3 523.2 1274.5 521.8 1270.0 524.5 C1265.4 527.2 1267.7 525.9 1263.1 528.5 C1258.5 531.2 1260.8 529.9 1256.1 532.5 C1251.5 535.0 1253.8 533.8 1249.1 536.3 C1244.4 538.7 1246.8 537.5 1242.0 539.9 C1237.3 542.4 1239.7 541.2 1234.9 543.5 C1230.1 545.9 1232.5 544.7 1227.7 547.0 C1222.9 549.3 1225.3 548.1 1220.4 550.4 C1215.6 552.6 1218.0 551.5 1213.1 553.6 C1208.3 555.7 1210.7 554.7 1205.8 556.8 C1200.9 558.8 1203.3 557.8 1198.4 559.8 C1193.4 561.8 1195.9 560.8 1190.9 562.8 C1186.0 564.7 1188.5 563.8 1183.5 565.6 C1178.5 567.5 1181.0 566.6 1175.9 568.4 C1170.9 570.2 1173.4 569.3 1168.4 571.1 C1163.3 572.8 1165.8 572.0 1160.8 573.7 C1155.7 575.4 1158.2 574.5 1153.1 576.2 C1148.0 577.8 1150.6 577.0 1145.4 578.6 C1140.3 580.2 1142.9 579.4 1137.7 580.9 C1132.6 582.4 1135.2 581.7 1130.0 583.1 C1124.8 584.6 1127.4 583.9 1122.2 585.3 C1117.0 586.7 1119.6 586.0 1114.4 587.4 C1109.2 588.7 1111.8 588.1 1106.6 589.4 C1101.4 590.7 1104.0 590.1 1098.8 591.3 C1093.6 592.6 1096.2 592.0 1091.0 593.2 C1085.7 594.4 1088.3 593.8 1083.1 594.9 C1077.8 596.1 1080.5 595.5 1075.2 596.7 C1070.0 597.8 1072.6 597.2 1067.3 598.3 C1062.1 599.4 1064.7 598.8 1059.4 599.9 C1054.2 600.9 1056.8 600.4 1051.5 601.4 C1046.3 602.4 1048.9 601.9 1043.6 602.8 C1038.3 603.8 1041.0 603.3 1035.7 604.2 C1030.4 605.1 1033.1 604.7 1027.8 605.6 C1022.5 606.4 1025.1 606.0 1019.9 606.8 C1014.6 607.7 1017.2 607.3 1011.9 608.1 C1006.6 608.8 1009.3 608.5 1004.0 609.2 C998.7 610.0 1001.4 609.6 996.1 610.3 C990.8 611.0 993.4 610.7 988.1 611.4 C982.8 612.1 985.5 611.7 980.2 612.4 C974.9 613.0 977.5 612.7 972.2 613.3 C966.9 613.9 969.6 613.6 964.3 614.2 C959.0 614.8 961.6 614.5 956.3 615.1 C951.0 615.6 953.7 615.4 948.4 615.9 C943.1 616.4 945.7 616.2 940.4 616.7 C935.1 617.2 937.8 616.9 932.5 617.4 C927.2 617.9 929.8 617.6 924.5 618.1 C919.2 618.5 921.8 618.3 916.5 618.7 C911.2 619.1 913.9 618.9 908.6 619.3 C903.2 619.7 905.9 619.5 900.6 619.9 C895.3 620.2 897.9 620.1 892.6 620.4 C887.3 620.8 889.9 620.6 884.6 620.9 C879.3 621.2 882.0 621.1 876.6 621.4 C871.3 621.7 874.0 621.5 868.7 621.8 C863.3 622.1 866.0 621.9 860.7 622.2 C855.3 622.4 858.0 622.3 852.7 622.6 C847.3 622.8 850.0 622.7 844.7 622.9 C839.4 623.1 842.0 623.0 836.7 623.2 C831.4 623.4 834.0 623.3 828.7 623.5 C823.4 623.7 826.0 623.6 820.7 623.8 C815.4 623.9 818.0 623.9 812.7 624.0 C807.4 624.2 810.0 624.1 804.7 624.2 C799.3 624.4 802.0 624.3 796.7 624.4 C791.3 624.6 794.0 624.5 788.7 624.6 C783.3 624.7 786.0 624.7 780.7 624.8 C775.3 624.9 778.0 624.8 772.7 624.9 C767.3 625.0 770.0 625.0 764.6 625.1 C759.3 625.2 762.0 625.1 756.6 625.2 C751.3 625.3 754.0 625.2 748.6 625.3 C743.3 625.4 745.9 625.3 740.6 625.4 C735.3 625.5 737.9 625.4 732.6 625.5 C727.2 625.5 729.9 625.5 724.6 625.6 C719.2 625.6 721.9 625.6 716.5 625.7 C711.2 625.7 713.9 625.7 708.5 625.7 C703.2 625.8 705.9 625.7 700.5 625.8 C695.2 625.8 697.8 625.8 692.5 625.9 C687.1 625.9 689.8 625.9 684.5 625.9 C679.1 626.0 681.8 625.9 676.4 626.0 C671.1 626.0 673.8 626.0 668.4 626.1 C663.1 626.1 665.7 626.1 660.4 626.1 C655.1 626.2 657.7 626.2 652.4 626.2 C647.0 626.3 649.7 626.2 644.4 626.3 C639.0 626.4 641.7 626.3 636.3 626.4 C631.0 626.5 633.7 626.4 628.3 626.5 C623.0 626.6 625.6 626.5 620.3 626.6 C614.9 626.7 617.6 626.6 612.3 626.7 C606.9 626.8 609.6 626.8 604.2 626.9 C598.9 626.9 601.6 626.9 596.2 627.0 C590.9 627.1 593.5 627.1 588.2 627.2 C582.8 627.3 585.5 627.2 580.2 627.3 C574.8 627.5 577.5 627.4 572.2 627.5 C566.8 627.7 569.5 627.6 564.1 627.8 C558.8 627.9 561.5 627.8 556.1 628.0 C550.8 628.2 553.4 628.1 548.1 628.3 C542.7 628.5 545.4 628.4 540.1 628.6 C534.7 628.8 537.4 628.7 532.1 628.9 C526.7 629.1 529.4 629.0 524.0 629.2 C518.7 629.4 521.4 629.3 516.0 629.6 C510.7 629.8 513.4 629.7 508.0 630.0 C502.7 630.2 502.7 630.3 500.0 630.4"/><path d="M500.0 630.4 C502.7 630.5 502.7 630.5 508.0 630.6 C513.3 630.7 510.6 630.7 516.0 630.8 C521.3 630.9 518.6 630.9 523.9 631.0 C529.3 631.1 526.6 631.0 531.9 631.2 C537.2 631.3 534.6 631.2 539.9 631.3 C545.2 631.4 542.6 631.4 547.9 631.5 C553.2 631.6 550.6 631.5 555.9 631.6 C561.2 631.7 558.6 631.7 563.9 631.7 C569.2 631.8 566.6 631.8 571.9 631.9 C577.2 631.9 574.6 631.9 579.9 632.0 C585.3 632.0 582.6 632.0 587.9 632.1 C593.3 632.1 590.6 632.1 595.9 632.2 C601.3 632.2 598.6 632.2 604.0 632.3 C609.3 632.3 606.6 632.3 612.0 632.4 C617.3 632.4 614.7 632.4 620.0 632.4 C625.3 632.5 622.7 632.5 628.0 632.5 C633.4 632.6 630.7 632.6 636.0 632.6 C641.4 632.7 638.7 632.6 644.1 632.7 C649.4 632.7 646.8 632.7 652.1 632.8 C657.5 632.8 654.8 632.8 660.1 632.8 C665.5 632.9 662.8 632.9 668.2 632.9 C673.5 633.0 670.8 633.0 676.2 633.0 C681.6 633.1 678.9 633.0 684.2 633.1 C689.6 633.1 686.9 633.1 692.3 633.2 C697.6 633.2 695.0 633.2 700.3 633.3 C705.7 633.3 703.0 633.3 708.3 633.4 C713.7 633.4 711.0 633.4 716.4 633.5 C721.7 633.5 719.1 633.5 724.4 633.6 C729.8 633.6 727.1 633.6 732.5 633.7 C737.8 633.8 735.1 633.7 740.5 633.8 C745.9 633.9 743.2 633.9 748.5 633.9 C753.9 634.0 751.2 634.0 756.6 634.1 C761.9 634.2 759.3 634.1 764.6 634.2 C770.0 634.3 767.3 634.3 772.7 634.4 C778.0 634.5 775.3 634.4 780.7 634.6 C786.1 634.7 783.4 634.6 788.7 634.8 C794.1 634.9 791.4 634.8 796.8 635.0 C802.1 635.1 799.5 635.0 804.8 635.2 C810.2 635.3 807.5 635.2 812.8 635.4 C818.2 635.5 815.5 635.5 820.9 635.6 C826.2 635.8 823.6 635.7 828.9 635.9 C834.3 636.1 831.6 636.0 836.9 636.2 C842.3 636.4 839.6 636.3 845.0 636.5 C850.3 636.7 847.6 636.6 853.0 636.8 C858.3 637.0 855.7 636.9 861.0 637.1 C866.4 637.3 863.7 637.2 869.0 637.5 C874.4 637.7 871.7 637.6 877.1 637.8 C882.4 638.1 879.7 638.0 885.1 638.2 C890.4 638.5 887.8 638.4 893.1 638.7 C898.4 638.9 895.8 638.8 901.1 639.1 C906.4 639.4 903.8 639.2 909.1 639.6 C914.5 639.9 911.8 639.7 917.1 640.1 C922.5 640.4 919.8 640.2 925.1 640.6 C930.5 640.9 927.8 640.7 933.1 641.1 C938.5 641.5 935.8 641.3 941.1 641.7 C946.4 642.1 943.8 641.9 949.1 642.3 C954.4 642.7 951.8 642.5 957.1 642.9 C962.4 643.3 959.8 643.1 965.1 643.6 C970.4 644.0 967.7 643.8 973.1 644.2 C978.4 644.7 975.7 644.5 981.0 645.0 C986.4 645.5 983.7 645.2 989.0 645.7 C994.3 646.2 991.7 646.0 997.0 646.5 C1002.3 647.0 999.6 646.8 1004.9 647.3 C1010.2 647.9 1007.6 647.6 1012.9 648.2 C1018.2 648.7 1015.6 648.4 1020.9 649.0 C1026.2 649.6 1023.5 649.3 1028.8 650.0 C1034.1 650.6 1031.4 650.3 1036.7 650.9 C1042.0 651.6 1039.4 651.2 1044.7 651.9 C1050.0 652.6 1047.3 652.2 1052.6 652.9 C1057.9 653.6 1055.3 653.3 1060.5 654.0 C1065.8 654.7 1063.2 654.4 1068.5 655.1 C1073.7 655.9 1071.1 655.5 1076.4 656.3 C1081.6 657.1 1079.0 656.7 1084.3 657.5 C1089.5 658.3 1086.9 657.9 1092.2 658.7 C1097.4 659.5 1094.8 659.1 1100.1 660.0 C1105.3 660.8 1102.7 660.4 1108.0 661.3 C1113.2 662.2 1110.6 661.7 1115.8 662.7 C1121.1 663.6 1118.5 663.1 1123.7 664.1 C1129.0 665.0 1126.3 664.5 1131.6 665.5 C1136.8 666.5 1134.2 666.0 1139.4 667.0 C1144.7 668.0 1142.1 667.5 1147.3 668.6 C1152.5 669.6 1149.9 669.1 1155.1 670.2 C1160.4 671.3 1157.7 670.7 1163.0 671.8 C1168.2 672.9 1165.6 672.4 1170.8 673.5 C1176.0 674.7 1173.4 674.1 1178.6 675.3 C1183.8 676.4 1181.2 675.8 1186.4 677.1 C1191.6 678.3 1189.0 677.7 1194.2 678.9 C1199.4 680.2 1196.8 679.5 1202.0 680.8 C1207.2 682.1 1204.6 681.4 1209.8 682.8 C1215.0 684.1 1212.4 683.4 1217.6 684.8 C1222.8 686.1 1220.2 685.5 1225.3 686.9 C1230.5 688.3 1227.9 687.5 1233.1 689.0 C1238.2 690.4 1235.7 689.7 1240.8 691.2 C1246.0 692.7 1243.4 691.9 1248.5 693.4 C1253.7 694.9 1251.1 694.2 1256.2 695.7 C1261.3 697.3 1258.8 696.5 1263.9 698.1 C1269.0 699.7 1266.4 698.9 1271.5 700.5 C1276.6 702.2 1274.1 701.4 1279.2 703.0 C1284.3 704.7 1281.7 703.9 1286.8 705.6 C1291.8 707.4 1289.3 706.5 1294.4 708.3 C1299.4 710.0 1296.9 709.1 1301.9 711.0 C1307.0 712.8 1304.5 711.9 1309.5 713.7 C1314.5 715.6 1312.0 714.7 1317.0 716.6 C1322.0 718.5 1319.5 717.5 1324.5 719.5 C1329.5 721.5 1327.0 720.5 1331.9 722.5 C1336.9 724.5 1334.4 723.5 1339.4 725.6 C1344.3 727.6 1341.8 726.6 1346.8 728.7 C1351.7 730.8 1349.2 729.7 1354.1 731.9 C1359.0 734.1 1356.6 733.0 1361.5 735.2 C1366.3 737.4 1363.9 736.3 1368.7 738.6 C1373.6 740.9 1371.2 739.7 1376.0 742.0 C1380.8 744.4 1378.4 743.2 1383.2 745.6 C1388.0 748.0 1385.7 746.8 1390.4 749.2 C1395.2 751.7 1392.8 750.4 1397.6 752.9 C1402.3 755.4 1400.0 754.2 1404.7 756.7 C1409.4 759.3 1407.0 758.0 1411.7 760.6 C1416.3 763.3 1414.0 761.9 1418.6 764.6 C1423.3 767.3 1421.0 766.0 1425.5 768.8 C1430.1 771.5 1427.8 770.1 1432.3 773.0 C1436.9 775.8 1434.6 774.4 1439.1 777.3 C1443.5 780.3 1441.3 778.8 1445.7 781.8 C1450.1 784.8 1447.9 783.3 1452.2 786.4 C1456.6 789.5 1454.4 787.9 1458.7 791.1 C1462.9 794.3 1460.8 792.7 1465.0 795.9 C1469.2 799.2 1467.1 797.6 1471.2 800.9 C1475.3 804.3 1473.3 802.6 1477.3 806.1 C1481.3 809.5 1479.3 807.8 1483.3 811.3 C1487.2 814.9 1485.2 813.1 1489.1 816.8 C1492.9 820.4 1491.0 818.6 1494.8 822.3 C1498.5 826.1 1496.7 824.2 1500.3 828.0 C1504.0 831.9 1502.2 829.9 1505.8 833.9 C1509.4 837.8 1507.6 835.8 1511.1 839.8 C1514.6 843.9 1512.8 841.8 1516.3 845.9 C1519.7 850.0 1518.0 848.0 1521.3 852.1 C1524.6 856.3 1523.0 854.2 1526.2 858.5 C1529.5 862.7 1527.9 860.6 1531.0 864.9 C1534.2 869.2 1532.6 867.0 1535.7 871.4 C1538.8 875.8 1537.3 873.6 1540.3 878.0 C1543.3 882.5 1541.8 880.3 1544.7 884.8 C1547.6 889.3 1546.2 887.0 1549.0 891.6 C1551.8 896.2 1550.4 893.9 1553.2 898.5 C1555.9 903.1 1554.6 900.8 1557.2 905.5 C1559.9 910.1 1558.6 907.8 1561.2 912.5 C1563.8 917.2 1562.5 914.9 1565.0 919.6 C1567.6 924.4 1566.3 922.0 1568.8 926.8 C1571.3 931.6 1570.1 929.2 1572.5 934.0 C1575.0 938.8 1573.8 936.4 1576.2 941.2 C1578.7 946.0 1577.4 943.6 1579.9 948.4 C1582.3 953.2 1581.1 950.8 1583.6 955.6 C1586.0 960.4 1584.8 958.0 1587.2 962.8 C1589.7 967.6 1588.5 965.2 1591.0 969.9 C1593.5 974.7 1592.2 972.3 1594.7 977.0 C1597.3 981.7 1596.0 979.4 1598.6 984.1 C1601.2 988.7 1599.9 986.4 1602.5 991.0 C1605.2 995.6 1603.8 993.3 1606.6 997.9 C1609.3 1002.4 1607.9 1000.2 1610.8 1004.7 C1613.6 1009.1 1612.2 1006.9 1615.1 1011.3 C1618.0 1015.7 1616.5 1013.5 1619.6 1017.8 C1622.7 1022.1 1621.1 1020.0 1624.3 1024.2 C1627.5 1028.4 1625.8 1026.3 1629.2 1030.4 C1632.5 1034.5 1630.8 1032.5 1634.2 1036.5 C1637.6 1040.5 1635.9 1038.6 1639.4 1042.5 C1643.0 1046.4 1641.2 1044.4 1644.9 1048.3 C1648.5 1052.1 1646.7 1050.2 1650.4 1053.9 C1654.2 1057.6 1652.3 1055.8 1656.2 1059.4 C1660.1 1063.0 1658.1 1061.2 1662.1 1064.7 C1666.1 1068.2 1664.0 1066.5 1668.1 1069.9 C1672.2 1073.3 1670.1 1071.6 1674.3 1074.9 C1678.5 1078.2 1676.4 1076.5 1680.7 1079.7 C1684.9 1082.9 1682.8 1081.4 1687.1 1084.4 C1691.5 1087.5 1689.3 1086.0 1693.8 1089.0 C1698.2 1091.9 1696.0 1090.5 1700.5 1093.4 C1705.0 1096.2 1702.7 1094.8 1707.4 1097.6 C1712.0 1100.3 1709.6 1099.0 1714.3 1101.6 C1719.0 1104.3 1716.6 1103.0 1721.4 1105.6 C1726.1 1108.1 1723.7 1106.9 1728.5 1109.4 C1733.3 1111.9 1730.9 1110.6 1735.7 1113.1 C1740.5 1115.5 1738.1 1114.3 1742.9 1116.6 C1747.8 1119.0 1745.4 1117.8 1750.2 1120.1 C1755.1 1122.4 1755.1 1122.4 1757.5 1123.5"/></g>
<g stroke="#ff0000"><path d="M1829.3 374.8 C1828.0 377.1 1828.0 377.1 1825.5 381.8 C1823.0 386.5 1824.3 384.2 1821.9 388.9 C1819.5 393.7 1820.6 391.3 1818.3 396.1 C1815.9 400.9 1817.1 398.5 1814.8 403.3 C1812.5 408.1 1813.6 405.7 1811.4 410.6 C1809.1 415.4 1810.2 413.0 1808.0 417.8 C1805.8 422.7 1806.9 420.3 1804.7 425.2 C1802.5 430.0 1803.6 427.6 1801.4 432.5 C1799.2 437.4 1800.3 434.9 1798.1 439.8 C1795.8 444.7 1797.0 442.3 1794.7 447.1 C1792.5 452.0 1793.6 449.6 1791.4 454.4 C1789.2 459.3 1790.3 456.9 1788.0 461.7 C1785.7 466.6 1786.9 464.2 1784.6 469.0 C1782.3 473.8 1783.4 471.4 1781.1 476.2 C1778.7 481.0 1779.9 478.6 1777.5 483.4 C1775.1 488.1 1776.3 485.8 1773.8 490.5 C1771.3 495.2 1772.6 492.9 1770.0 497.5 C1767.4 502.2 1768.7 499.9 1766.1 504.5 C1763.4 509.1 1764.8 506.8 1762.0 511.4 C1759.2 515.9 1760.6 513.7 1757.8 518.1 C1754.9 522.6 1756.4 520.4 1753.4 524.8 C1750.4 529.2 1751.9 527.0 1748.8 531.4 C1745.6 535.7 1747.2 533.6 1744.0 537.9 C1740.8 542.1 1742.4 540.0 1739.1 544.2 C1735.8 548.5 1737.5 546.4 1734.2 550.6 C1730.9 554.8 1732.5 552.7 1729.3 557.0 C1726.0 561.2 1727.6 559.1 1724.4 563.4 C1721.3 567.6 1722.8 565.5 1719.8 569.8 C1716.7 574.2 1718.2 572.0 1715.3 576.4 C1712.4 580.9 1713.8 578.6 1711.1 583.2 C1708.4 587.7 1709.7 585.4 1707.3 590.1 C1704.8 594.8 1706.0 592.4 1703.8 597.2 C1701.7 602.1 1702.7 599.6 1700.8 604.6 C1699.0 609.7 1699.9 607.1 1698.3 612.3 C1696.7 617.4 1697.5 614.8 1696.0 620.1 C1694.6 625.3 1695.3 622.7 1694.0 628.0 C1692.6 633.2 1693.3 630.6 1692.0 635.9 C1690.7 641.1 1691.4 638.5 1690.0 643.7 C1688.5 649.0 1689.3 646.4 1687.8 651.5 C1686.2 656.6 1687.1 654.1 1685.3 659.1 C1683.5 664.1 1684.5 661.6 1682.4 666.4 C1680.3 671.2 1681.5 668.9 1679.0 673.5 C1676.5 678.0 1677.9 675.8 1675.0 680.1 C1672.1 684.4 1673.6 682.3 1670.4 686.4 C1667.1 690.4 1668.8 688.4 1665.2 692.3 C1661.6 696.1 1663.4 694.2 1659.5 697.9 C1655.7 701.5 1657.6 699.8 1653.5 703.2 C1649.4 706.7 1651.5 705.0 1647.2 708.3 C1642.9 711.6 1645.0 710.0 1640.6 713.2 C1636.1 716.4 1638.4 714.8 1633.8 717.9 C1629.3 720.9 1631.6 719.4 1627.0 722.4 C1622.4 725.4 1624.7 723.9 1620.1 726.8 C1615.5 729.7 1617.8 728.3 1613.2 731.1 C1608.6 734.0 1610.9 732.6 1606.3 735.3 C1601.6 738.1 1603.9 736.7 1599.3 739.4 C1594.6 742.0 1596.9 740.7 1592.2 743.3 C1587.5 745.9 1589.9 744.6 1585.2 747.1 C1580.4 749.7 1582.8 748.4 1578.1 750.9 C1573.3 753.3 1575.7 752.1 1570.9 754.5 C1566.1 756.8 1568.5 755.7 1563.7 758.0 C1558.9 760.3 1561.3 759.1 1556.5 761.4 C1551.7 763.6 1554.1 762.5 1549.3 764.6 C1544.4 766.8 1546.9 765.7 1542.0 767.8 C1537.1 769.9 1539.6 768.9 1534.7 770.9 C1529.8 772.9 1532.2 771.9 1527.3 773.9 C1522.4 775.8 1524.9 774.9 1519.9 776.7 C1515.0 778.6 1517.5 777.7 1512.5 779.5 C1507.6 781.3 1510.0 780.4 1505.1 782.2 C1500.1 784.0 1502.6 783.1 1497.6 784.8 C1492.6 786.5 1495.1 785.6 1490.1 787.3 C1485.1 788.9 1487.6 788.1 1482.6 789.7 C1477.5 791.3 1480.1 790.5 1475.0 792.0 C1470.0 793.5 1472.5 792.8 1467.4 794.2 C1462.3 795.7 1464.9 795.0 1459.8 796.4 C1454.7 797.8 1457.3 797.1 1452.2 798.4 C1447.1 799.8 1449.6 799.1 1444.5 800.4 C1439.4 801.7 1441.9 801.1 1436.8 802.3 C1431.7 803.5 1434.2 802.9 1429.1 804.1 C1423.9 805.3 1426.5 804.7 1421.4 805.9 C1416.2 807.0 1418.8 806.4 1413.6 807.5 C1408.4 808.6 1411.0 808.1 1405.8 809.1 C1400.6 810.2 1403.2 809.7 1398.0 810.7 C1392.8 811.6 1395.4 811.2 1390.2 812.1 C1385.0 813.0 1387.6 812.6 1382.3 813.5 C1377.1 814.4 1379.7 813.9 1374.5 814.8 C1369.2 815.7 1371.9 815.2 1366.6 816.1 C1361.3 816.9 1364.0 816.5 1358.7 817.3 C1353.4 818.0 1356.1 817.6 1350.8 818.4 C1345.5 819.1 1348.2 818.8 1342.9 819.5 C1337.6 820.1 1340.2 819.8 1334.9 820.5 C1329.6 821.1 1332.3 820.8 1327.0 821.4 C1321.6 822.0 1324.3 821.7 1319.0 822.3 C1313.7 822.9 1316.3 822.6 1311.0 823.2 C1305.7 823.7 1308.3 823.5 1303.0 824.0 C1297.6 824.5 1300.3 824.2 1295.0 824.7 C1289.6 825.2 1292.3 825.0 1286.9 825.4 C1281.6 825.9 1284.3 825.7 1278.9 826.1 C1273.5 826.5 1276.2 826.3 1270.8 826.7 C1265.5 827.1 1268.2 826.9 1262.8 827.3 C1257.4 827.6 1260.1 827.5 1254.7 827.8 C1249.3 828.2 1252.0 828.0 1246.6 828.3 C1241.3 828.6 1243.9 828.5 1238.6 828.8 C1233.2 829.1 1235.9 828.9 1230.5 829.2 C1225.1 829.5 1227.8 829.3 1222.4 829.6 C1217.0 829.8 1219.7 829.7 1214.3 829.9 C1208.9 830.2 1211.6 830.1 1206.2 830.3 C1200.7 830.5 1203.4 830.4 1198.0 830.6 C1192.6 830.8 1195.3 830.7 1189.9 830.8 C1184.5 831.0 1187.2 830.9 1181.8 831.1 C1176.4 831.2 1179.1 831.2 1173.7 831.3 C1168.3 831.5 1171.0 831.4 1165.6 831.5 C1160.1 831.6 1162.8 831.6 1157.4 831.7 C1152.0 831.8 1154.7 831.8 1149.3 831.9 C1143.9 832.0 1146.6 831.9 1141.2 832.0 C1135.8 832.1 1138.5 832.1 1133.0 832.2 C1127.6 832.2 1130.3 832.2 1124.9 832.3 C1119.5 832.4 1122.2 832.3 1116.8 832.4 C1111.4 832.5 1114.1 832.4 1108.7 832.5 C1103.3 832.6 1106.0 832.5 1100.6 832.6 C1095.2 832.7 1097.9 832.6 1092.5 832.7 C1087.1 832.7 1089.8 832.7 1084.4 832.8 C1079.0 832.8 1081.7 832.8 1076.3 832.9 C1070.9 832.9 1073.6 832.9 1068.2 832.9 C1062.8 833.0 1065.5 833.0 1060.1 833.0 C1054.7 833.1 1057.4 833.1 1052.0 833.1 C1046.6 833.2 1049.3 833.2 1043.9 833.2 C1038.6 833.3 1041.2 833.2 1035.9 833.3 C1030.5 833.4 1033.2 833.4 1027.8 833.4 C1022.5 833.5 1025.1 833.5 1019.8 833.5 C1014.4 833.6 1017.1 833.6 1011.7 833.7 C1006.4 833.8 1009.1 833.7 1003.7 833.8 C998.4 833.9 1001.1 833.9 995.7 834.0 C990.4 834.1 993.0 834.0 987.7 834.2 C982.4 834.3 985.1 834.2 979.7 834.4 C974.4 834.5 977.1 834.4 971.8 834.6 C966.5 834.7 969.1 834.6 963.8 834.8 C958.5 835.0 961.2 834.9 955.9 835.1 C950.6 835.3 953.3 835.2 948.0 835.4 C942.7 835.6 945.3 835.5 940.1 835.7 C934.8 835.9 937.4 835.8 932.2 836.0 C926.9 836.3 929.6 836.1 924.3 836.4 C919.1 836.7 921.7 836.5 916.5 836.8 C911.3 837.1 913.9 836.9 908.7 837.3 C903.4 837.6 906.0 837.4 900.9 837.7 C895.7 838.1 898.3 837.9 893.1 838.2 C887.9 838.6 887.9 838.6 885.3 838.8"/><path d="M885.3 838.8 C888.0 838.9 888.0 838.9 893.3 839.0 C898.7 839.2 896.0 839.1 901.4 839.3 C906.7 839.4 904.0 839.3 909.4 839.5 C914.8 839.6 912.1 839.6 917.4 839.7 C922.8 839.8 920.1 839.7 925.5 839.9 C930.8 840.0 928.2 839.9 933.5 840.0 C938.9 840.1 936.2 840.1 941.6 840.2 C946.9 840.3 944.3 840.2 949.6 840.3 C955.0 840.4 952.3 840.4 957.7 840.5 C963.0 840.5 960.3 840.5 965.7 840.6 C971.1 840.7 968.4 840.6 973.8 840.7 C979.1 840.8 976.4 840.7 981.8 840.8 C987.2 840.9 984.5 840.8 989.8 840.9 C995.2 841.0 992.5 840.9 997.9 841.0 C1003.3 841.0 1000.6 841.0 1005.9 841.1 C1011.3 841.1 1008.6 841.1 1014.0 841.2 C1019.4 841.2 1016.7 841.2 1022.0 841.2 C1027.4 841.3 1024.7 841.3 1030.1 841.3 C1035.4 841.4 1032.8 841.4 1038.1 841.4 C1043.5 841.5 1040.8 841.4 1046.2 841.5 C1051.5 841.5 1048.9 841.5 1054.2 841.6 C1059.6 841.6 1056.9 841.6 1062.3 841.7 C1067.6 841.7 1065.0 841.7 1070.3 841.8 C1075.7 841.8 1073.0 841.8 1078.4 841.9 C1083.7 841.9 1081.0 841.9 1086.4 842.0 C1091.8 842.0 1089.1 842.0 1094.4 842.1 C1099.8 842.1 1097.1 842.1 1102.5 842.2 C1107.9 842.3 1105.2 842.2 1110.5 842.3 C1115.9 842.4 1113.2 842.4 1118.6 842.5 C1123.9 842.6 1121.3 842.5 1126.6 842.6 C1132.0 842.7 1129.3 842.7 1134.7 842.8 C1140.0 842.9 1137.3 842.8 1142.7 842.9 C1148.0 843.1 1145.4 843.0 1150.7 843.1 C1156.1 843.3 1153.4 843.2 1158.8 843.3 C1164.1 843.5 1161.4 843.4 1166.8 843.6 C1172.1 843.7 1169.5 843.6 1174.8 843.8 C1180.2 844.0 1177.5 843.9 1182.8 844.1 C1188.2 844.3 1185.5 844.2 1190.9 844.4 C1196.2 844.6 1193.6 844.4 1198.9 844.7 C1204.2 844.9 1201.6 844.8 1206.9 845.0 C1212.3 845.2 1209.6 845.1 1214.9 845.3 C1220.3 845.6 1217.6 845.4 1223.0 845.7 C1228.3 846.0 1225.6 845.8 1231.0 846.1 C1236.3 846.4 1233.6 846.2 1239.0 846.5 C1244.3 846.8 1241.7 846.7 1247.0 847.0 C1252.3 847.3 1249.7 847.1 1255.0 847.5 C1260.3 847.8 1257.7 847.6 1263.0 848.0 C1268.3 848.3 1265.7 848.1 1271.0 848.5 C1276.3 848.9 1273.7 848.7 1279.0 849.1 C1284.3 849.5 1281.7 849.3 1287.0 849.7 C1292.3 850.1 1289.7 849.9 1295.0 850.3 C1300.3 850.8 1297.7 850.5 1303.0 851.0 C1308.3 851.5 1305.6 851.2 1311.0 851.7 C1316.3 852.2 1313.6 851.9 1318.9 852.4 C1324.3 853.0 1321.6 852.7 1326.9 853.2 C1332.2 853.8 1329.6 853.5 1334.9 854.1 C1340.2 854.6 1337.5 854.3 1342.9 854.9 C1348.2 855.5 1345.5 855.2 1350.8 855.8 C1356.1 856.4 1353.5 856.1 1358.8 856.8 C1364.1 857.4 1361.4 857.1 1366.7 857.8 C1372.0 858.4 1369.4 858.1 1374.7 858.8 C1380.0 859.5 1377.3 859.1 1382.6 859.9 C1387.9 860.6 1385.3 860.2 1390.6 861.0 C1395.9 861.8 1393.2 861.4 1398.5 862.2 C1403.8 863.0 1401.2 862.6 1406.5 863.4 C1411.7 864.2 1409.1 863.8 1414.4 864.7 C1419.7 865.5 1417.0 865.1 1422.3 866.0 C1427.6 866.9 1425.0 866.4 1430.2 867.4 C1435.5 868.3 1432.9 867.8 1438.2 868.8 C1443.4 869.8 1440.8 869.3 1446.1 870.3 C1451.3 871.3 1448.7 870.8 1454.0 871.8 C1459.2 872.9 1456.6 872.3 1461.9 873.4 C1467.1 874.5 1464.5 874.0 1469.8 875.1 C1475.0 876.2 1472.4 875.6 1477.6 876.8 C1482.9 877.9 1480.3 877.4 1485.5 878.6 C1490.8 879.8 1488.2 879.1 1493.4 880.4 C1498.6 881.6 1496.0 881.0 1501.3 882.3 C1506.5 883.6 1503.9 882.9 1509.1 884.2 C1514.4 885.6 1511.7 884.9 1517.0 886.2 C1522.2 887.6 1519.6 886.9 1524.8 888.3 C1530.0 889.7 1527.4 889.0 1532.6 890.5 C1537.8 891.9 1535.2 891.2 1540.4 892.7 C1545.6 894.2 1543.0 893.5 1548.2 895.0 C1553.3 896.6 1550.7 895.8 1555.9 897.4 C1561.1 899.0 1558.5 898.2 1563.6 899.8 C1568.8 901.5 1566.2 900.6 1571.3 902.3 C1576.4 904.0 1573.9 903.2 1579.0 904.9 C1584.1 906.7 1581.5 905.8 1586.6 907.6 C1591.7 909.4 1589.1 908.5 1594.2 910.3 C1599.3 912.2 1596.7 911.2 1601.8 913.2 C1606.8 915.1 1604.3 914.1 1609.3 916.1 C1614.3 918.0 1611.8 917.0 1616.8 919.0 C1621.7 921.1 1619.3 920.0 1624.2 922.1 C1629.2 924.2 1626.7 923.2 1631.6 925.3 C1636.5 927.4 1634.1 926.3 1639.0 928.5 C1643.8 930.7 1641.4 929.6 1646.3 931.9 C1651.1 934.1 1648.7 933.0 1653.5 935.3 C1658.3 937.6 1655.9 936.4 1660.7 938.8 C1665.5 941.2 1663.1 940.0 1667.9 942.4 C1672.6 944.9 1670.2 943.6 1675.0 946.1 C1679.7 948.6 1677.3 947.4 1682.0 949.9 C1686.7 952.5 1684.3 951.2 1689.0 953.8 C1693.6 956.5 1691.3 955.1 1695.9 957.8 C1700.5 960.5 1698.2 959.2 1702.7 961.9 C1707.3 964.7 1705.0 963.3 1709.5 966.1 C1714.0 969.0 1711.8 967.5 1716.2 970.5 C1720.7 973.4 1718.5 971.9 1722.9 974.9 C1727.3 977.8 1725.1 976.3 1729.4 979.4 C1733.8 982.4 1731.6 980.9 1735.9 984.0 C1740.2 987.1 1738.1 985.5 1742.3 988.7 C1746.6 991.9 1744.5 990.3 1748.7 993.6 C1752.9 996.8 1750.8 995.2 1754.9 998.5 C1759.1 1001.9 1757.0 1000.2 1761.1 1003.6 C1765.2 1007.0 1763.2 1005.3 1767.2 1008.8 C1771.2 1012.2 1769.2 1010.5 1773.2 1014.0 C1777.2 1017.6 1775.2 1015.8 1779.1 1019.5 C1783.0 1023.1 1781.1 1021.3 1785.0 1025.0 C1788.8 1028.7 1786.9 1026.8 1790.7 1030.6 C1794.5 1034.4 1792.6 1032.5 1796.3 1036.4 C1800.0 1040.3 1798.2 1038.3 1801.8 1042.3 C1805.5 1046.2 1803.7 1044.2 1807.3 1048.2 C1810.8 1052.3 1809.1 1050.2 1812.6 1054.3 C1816.0 1058.4 1814.3 1056.3 1817.7 1060.5 C1821.1 1064.7 1819.5 1062.6 1822.8 1066.8 C1826.1 1071.0 1824.5 1068.9 1827.7 1073.2 C1830.9 1077.5 1829.3 1075.3 1832.5 1079.7 C1835.6 1084.0 1834.1 1081.8 1837.1 1086.2 C1840.2 1090.7 1838.7 1088.4 1841.6 1092.9 C1844.6 1097.4 1843.1 1095.1 1846.0 1099.7 C1848.8 1104.2 1847.4 1101.9 1850.2 1106.5 C1852.9 1111.1 1851.6 1108.8 1854.2 1113.4 C1856.9 1118.1 1855.6 1115.8 1858.2 1120.4 C1860.8 1125.1 1859.5 1122.8 1862.0 1127.5 C1864.5 1132.2 1863.3 1129.9 1865.8 1134.6 C1868.2 1139.4 1867.0 1137.0 1869.4 1141.8 C1871.9 1146.5 1870.7 1144.1 1873.1 1148.9 C1875.5 1153.7 1874.3 1151.3 1876.7 1156.1 C1879.1 1161.0 1877.9 1158.6 1880.3 1163.4 C1882.7 1168.2 1881.5 1165.8 1883.9 1170.6 C1886.3 1175.4 1885.1 1173.0 1887.5 1177.8 C1889.9 1182.6 1888.7 1180.2 1891.2 1185.0 C1893.6 1189.8 1892.4 1187.4 1894.9 1192.2 C1897.4 1197.0 1896.1 1194.6 1898.7 1199.4 C1901.3 1204.1 1900.0 1201.8 1902.6 1206.5 C1905.2 1211.2 1903.9 1208.8 1906.5 1213.5 C1909.2 1218.2 1907.9 1215.9 1910.6 1220.5 C1913.4 1225.1 1912.0 1222.8 1914.8 1227.3 C1917.6 1231.9 1916.2 1229.6 1919.1 1234.1 C1922.0 1238.6 1920.5 1236.4 1923.5 1240.8 C1926.5 1245.1 1925.0 1243.0 1928.1 1247.3 C1931.2 1251.6 1929.6 1249.5 1932.8 1253.7 C1936.0 1257.9 1934.4 1255.8 1937.7 1259.9 C1941.0 1264.0 1939.3 1262.0 1942.8 1265.9 C1946.2 1269.9 1944.4 1268.0 1948.0 1271.8 C1951.6 1275.7 1949.8 1273.8 1953.4 1277.5 C1957.1 1281.2 1955.3 1279.4 1959.1 1283.0 C1962.9 1286.5 1961.0 1284.8 1965.0 1288.2 C1968.9 1291.6 1966.9 1290.0 1971.0 1293.2 C1975.2 1296.5 1973.1 1294.9 1977.3 1298.0 C1981.6 1301.1 1979.4 1299.6 1983.9 1302.5 C1988.3 1305.4 1986.0 1304.0 1990.6 1306.8 C1995.2 1309.5 1992.9 1308.2 1997.6 1310.7 C2002.3 1313.3 1999.9 1312.1 2004.8 1314.4 C2009.7 1316.8 2007.2 1315.6 2012.3 1317.8 C2017.3 1319.9 2014.7 1318.9 2019.9 1320.9 C2025.1 1322.8 2022.5 1321.9 2027.9 1323.6 C2033.2 1325.3 2033.3 1325.2 2036.0 1326.0"/></g>
<g stroke="#000000"><path d="M1864.6 414.0 C1864.5 416.7 1864.3 416.7 1864.3 422.1 C1864.4 427.5 1864.3 424.9 1864.7 430.2 C1865.1 435.5 1864.8 432.9 1865.5 438.2 C1866.2 443.4 1865.8 440.8 1866.8 446.0 C1867.8 451.3 1867.2 448.7 1868.5 453.9 C1869.7 459.1 1869.1 456.5 1870.5 461.6 C1871.9 466.8 1871.2 464.2 1872.8 469.3 C1874.4 474.5 1873.5 471.9 1875.2 477.0 C1877.0 482.1 1876.1 479.6 1877.9 484.7 C1879.7 489.7 1878.8 487.2 1880.6 492.3 C1882.4 497.3 1881.5 494.8 1883.3 499.9 C1885.1 504.9 1884.3 502.4 1886.0 507.5 C1887.8 512.5 1886.9 510.0 1888.6 515.1 C1890.3 520.1 1889.5 517.6 1891.1 522.6 C1892.7 527.7 1892.0 525.2 1893.5 530.3 C1895.0 535.3 1894.3 532.8 1895.7 537.9 C1897.2 543.0 1896.5 540.4 1897.9 545.5 C1899.2 550.6 1898.6 548.1 1899.9 553.2 C1901.2 558.3 1900.5 555.7 1901.7 560.9 C1903.0 566.0 1902.4 563.4 1903.5 568.6 C1904.6 573.7 1904.1 571.1 1905.1 576.3 C1906.2 581.5 1905.7 578.9 1906.6 584.1 C1907.6 589.3 1907.2 586.7 1908.0 592.0 C1908.9 597.2 1908.5 594.6 1909.3 599.8 C1910.1 605.1 1909.7 602.5 1910.4 607.8 C1911.2 613.1 1910.8 610.4 1911.5 615.8 C1912.1 621.1 1911.8 618.4 1912.3 623.8 C1912.9 629.1 1912.6 626.5 1913.1 631.8 C1913.5 637.2 1913.3 634.5 1913.7 639.9 C1914.0 645.3 1913.9 642.6 1914.1 648.0 C1914.3 653.4 1914.2 650.7 1914.4 656.1 C1914.5 661.6 1914.5 658.8 1914.5 664.3 C1914.5 669.7 1914.6 667.0 1914.5 672.4 C1914.4 677.8 1914.5 675.1 1914.3 680.5 C1914.1 685.9 1914.2 683.2 1913.9 688.6 C1913.6 694.0 1913.8 691.3 1913.3 696.7 C1912.9 702.1 1913.1 699.4 1912.6 704.8 C1912.0 710.1 1912.3 707.4 1911.6 712.8 C1910.9 718.1 1911.3 715.5 1910.5 720.8 C1909.7 726.1 1910.1 723.4 1909.2 728.7 C1908.2 734.0 1908.7 731.4 1907.6 736.6 C1906.5 741.9 1907.1 739.3 1905.9 744.5 C1904.6 749.7 1905.3 747.1 1903.9 752.2 C1902.5 757.4 1903.3 754.8 1901.7 759.9 C1900.2 765.1 1901.0 762.5 1899.3 767.6 C1897.6 772.6 1898.5 770.1 1896.7 775.1 C1894.9 780.1 1895.8 777.6 1893.8 782.6 C1891.8 787.5 1892.9 785.1 1890.7 789.9 C1888.5 794.8 1889.7 792.4 1887.3 797.1 C1884.9 801.8 1886.1 799.5 1883.5 804.1 C1880.9 808.7 1882.3 806.4 1879.4 810.8 C1876.5 815.2 1878.0 813.1 1874.8 817.3 C1871.7 821.4 1873.3 819.4 1869.9 823.4 C1866.4 827.3 1868.2 825.4 1864.5 829.1 C1860.7 832.9 1862.6 831.0 1858.7 834.6 C1854.8 838.2 1856.7 836.4 1852.6 839.8 C1848.5 843.2 1850.6 841.5 1846.4 844.8 C1842.1 848.1 1844.2 846.5 1839.9 849.6 C1835.6 852.8 1837.8 851.2 1833.4 854.3 C1829.0 857.4 1831.2 855.9 1826.8 858.9 C1822.4 861.9 1824.6 860.4 1820.1 863.3 C1815.6 866.2 1817.9 864.8 1813.4 867.6 C1808.8 870.4 1811.1 869.0 1806.5 871.8 C1802.0 874.5 1804.3 873.2 1799.7 875.9 C1795.1 878.5 1797.4 877.2 1792.7 879.8 C1788.1 882.4 1790.4 881.1 1785.7 883.6 C1781.0 886.2 1783.4 884.9 1778.6 887.4 C1773.9 889.8 1776.3 888.6 1771.5 891.0 C1766.7 893.4 1769.1 892.2 1764.3 894.5 C1759.5 896.8 1761.9 895.7 1757.1 897.9 C1752.3 900.1 1754.7 899.0 1749.8 901.2 C1744.9 903.4 1747.4 902.3 1742.5 904.4 C1737.6 906.5 1740.0 905.5 1735.1 907.5 C1730.1 909.5 1732.6 908.5 1727.7 910.5 C1722.7 912.5 1725.2 911.5 1720.2 913.4 C1715.2 915.3 1717.7 914.4 1712.7 916.2 C1707.6 918.0 1710.2 917.1 1705.1 918.9 C1700.1 920.7 1702.6 919.8 1697.5 921.5 C1692.5 923.3 1695.0 922.4 1689.9 924.1 C1684.8 925.7 1687.4 924.9 1682.2 926.5 C1677.1 928.1 1679.7 927.3 1674.6 928.9 C1669.4 930.5 1672.0 929.7 1666.8 931.2 C1661.7 932.7 1664.3 931.9 1659.1 933.4 C1653.9 934.8 1656.5 934.1 1651.3 935.5 C1646.2 936.9 1648.8 936.2 1643.6 937.6 C1638.4 938.9 1641.0 938.3 1635.8 939.6 C1630.5 940.9 1633.2 940.2 1627.9 941.5 C1622.7 942.7 1625.3 942.1 1620.1 943.3 C1614.9 944.5 1617.5 943.9 1612.2 945.1 C1607.0 946.3 1609.6 945.7 1604.4 946.8 C1599.1 947.9 1601.8 947.4 1596.5 948.4 C1591.3 949.5 1593.9 949.0 1588.6 950.0 C1583.4 951.1 1586.0 950.6 1580.8 951.6 C1575.5 952.6 1578.1 952.1 1572.9 953.0 C1567.6 954.0 1570.2 953.5 1565.0 954.4 C1559.7 955.3 1562.3 954.9 1557.1 955.8 C1551.8 956.7 1554.4 956.2 1549.2 957.1 C1543.9 957.9 1546.5 957.5 1541.2 958.3 C1536.0 959.1 1538.6 958.7 1533.3 959.5 C1528.0 960.3 1530.7 959.9 1525.4 960.6 C1520.1 961.4 1522.8 961.0 1517.5 961.7 C1512.2 962.4 1514.8 962.1 1509.5 962.8 C1504.2 963.4 1506.9 963.1 1501.6 963.8 C1496.3 964.4 1498.9 964.1 1493.6 964.7 C1488.3 965.3 1491.0 965.0 1485.7 965.6 C1480.4 966.2 1483.0 965.9 1477.7 966.4 C1472.4 967.0 1475.1 966.7 1469.7 967.3 C1464.4 967.8 1467.1 967.5 1461.8 968.0 C1456.5 968.5 1459.1 968.3 1453.8 968.7 C1448.5 969.2 1451.1 969.0 1445.8 969.4 C1440.5 969.9 1443.2 969.7 1437.8 970.1 C1432.5 970.5 1435.2 970.3 1429.8 970.7 C1424.5 971.1 1427.2 970.9 1421.8 971.3 C1416.5 971.6 1419.2 971.4 1413.9 971.8 C1408.5 972.1 1411.2 972.0 1405.9 972.3 C1400.5 972.6 1403.2 972.5 1397.8 972.8 C1392.5 973.1 1395.2 972.9 1389.8 973.2 C1384.5 973.5 1387.2 973.4 1381.8 973.6 C1376.5 973.9 1379.2 973.8 1373.8 974.0 C1368.5 974.2 1371.1 974.1 1365.8 974.4 C1360.5 974.6 1363.1 974.5 1357.8 974.7 C1352.4 974.9 1355.1 974.8 1349.8 975.0 C1344.4 975.2 1347.1 975.1 1341.7 975.3 C1336.4 975.4 1339.1 975.4 1333.7 975.5 C1328.4 975.7 1331.0 975.6 1325.7 975.8 C1320.3 975.9 1323.0 975.8 1317.7 976.0 C1312.3 976.1 1315.0 976.0 1309.6 976.2 C1304.3 976.3 1307.0 976.2 1301.6 976.3 C1296.2 976.4 1298.9 976.4 1293.6 976.5 C1288.2 976.6 1290.9 976.5 1285.5 976.6 C1280.2 976.7 1282.8 976.7 1277.5 976.8 C1272.1 976.8 1274.8 976.8 1269.5 976.9 C1264.1 977.0 1266.8 976.9 1261.4 977.0 C1256.1 977.1 1258.7 977.0 1253.4 977.1 C1248.0 977.1 1250.7 977.1 1245.3 977.2 C1240.0 977.2 1242.7 977.2 1237.3 977.2 C1231.9 977.3 1234.6 977.3 1229.3 977.3 C1223.9 977.3 1226.6 977.3 1221.2 977.4 C1215.9 977.4 1218.5 977.4 1213.2 977.4 C1207.8 977.5 1210.5 977.4 1205.1 977.5 C1199.8 977.5 1202.5 977.5 1197.1 977.5 C1191.7 977.6 1194.4 977.5 1189.1 977.6 C1183.7 977.6 1186.4 977.6 1181.0 977.6 C1175.7 977.7 1178.4 977.6 1173.0 977.7 C1167.6 977.7 1170.3 977.7 1165.0 977.7 C1159.6 977.8 1162.3 977.7 1156.9 977.8 C1151.6 977.8 1154.3 977.8 1148.9 977.8 C1143.5 977.9 1146.2 977.9 1140.9 977.9 C1135.5 978.0 1138.2 977.9 1132.8 978.0 C1127.5 978.0 1130.2 978.0 1124.8 978.1 C1119.5 978.1 1122.1 978.1 1116.8 978.2 C1111.4 978.2 1114.1 978.2 1108.8 978.3 C1103.4 978.3 1106.1 978.3 1100.8 978.4 C1095.4 978.5 1098.1 978.4 1092.7 978.5 C1087.4 978.6 1090.1 978.6 1084.7 978.7 C1079.4 978.8 1082.1 978.7 1076.7 978.8 C1071.4 978.9 1074.0 978.9 1068.7 979.0 C1063.4 979.1 1066.0 979.1 1060.7 979.2 C1055.4 979.3 1055.4 979.3 1052.7 979.4"/><path d="M1052.7 979.4 C1055.3 979.5 1055.3 979.5 1060.6 979.8 C1065.9 980.1 1063.2 979.9 1068.5 980.2 C1073.8 980.4 1071.1 980.3 1076.4 980.5 C1081.7 980.7 1079.0 980.6 1084.3 980.8 C1089.6 981.0 1087.0 980.9 1092.3 981.1 C1097.5 981.3 1094.9 981.2 1100.2 981.4 C1105.5 981.6 1102.8 981.5 1108.1 981.7 C1113.4 981.8 1110.8 981.7 1116.1 981.9 C1121.4 982.0 1118.8 982.0 1124.1 982.1 C1129.4 982.3 1126.7 982.2 1132.0 982.3 C1137.4 982.4 1134.7 982.4 1140.0 982.5 C1145.3 982.6 1142.7 982.6 1148.0 982.7 C1153.3 982.8 1150.7 982.7 1156.0 982.8 C1161.3 982.9 1158.7 982.9 1164.0 983.0 C1169.4 983.1 1166.7 983.0 1172.0 983.1 C1177.4 983.2 1174.7 983.2 1180.0 983.2 C1185.4 983.3 1182.7 983.3 1188.1 983.4 C1193.4 983.4 1190.7 983.4 1196.1 983.5 C1201.4 983.5 1198.8 983.5 1204.1 983.6 C1209.5 983.7 1206.8 983.6 1212.1 983.7 C1217.5 983.8 1214.8 983.7 1220.2 983.8 C1225.5 983.9 1222.9 983.8 1228.2 983.9 C1233.6 984.0 1230.9 983.9 1236.3 984.0 C1241.6 984.1 1239.0 984.0 1244.3 984.1 C1249.7 984.2 1247.0 984.1 1252.4 984.2 C1257.7 984.3 1255.1 984.2 1260.4 984.3 C1265.8 984.4 1263.1 984.4 1268.5 984.4 C1273.9 984.5 1271.2 984.5 1276.5 984.6 C1281.9 984.7 1279.2 984.6 1284.6 984.7 C1290.0 984.8 1287.3 984.8 1292.7 984.9 C1298.0 985.0 1295.3 984.9 1300.7 985.0 C1306.1 985.1 1303.4 985.1 1308.8 985.2 C1314.1 985.3 1311.5 985.2 1316.8 985.4 C1322.2 985.5 1319.5 985.4 1324.9 985.6 C1330.3 985.7 1327.6 985.6 1332.9 985.8 C1338.3 985.9 1335.6 985.8 1341.0 986.0 C1346.4 986.2 1343.7 986.1 1349.0 986.2 C1354.4 986.4 1351.7 986.3 1357.1 986.5 C1362.5 986.7 1359.8 986.6 1365.1 986.8 C1370.5 987.0 1367.8 986.9 1373.2 987.1 C1378.5 987.3 1375.9 987.2 1381.2 987.5 C1386.6 987.7 1383.9 987.6 1389.3 987.8 C1394.6 988.1 1391.9 988.0 1397.3 988.2 C1402.7 988.5 1400.0 988.4 1405.3 988.7 C1410.7 988.9 1408.0 988.8 1413.4 989.1 C1418.7 989.4 1416.0 989.3 1421.4 989.6 C1426.7 989.9 1424.0 989.7 1429.4 990.1 C1434.7 990.5 1432.1 990.3 1437.4 990.6 C1442.7 991.0 1440.1 990.8 1445.4 991.2 C1450.7 991.6 1448.1 991.4 1453.4 991.9 C1458.7 992.3 1456.1 992.1 1461.4 992.5 C1466.7 993.0 1464.0 992.7 1469.4 993.2 C1474.7 993.7 1472.0 993.4 1477.3 993.9 C1482.6 994.5 1480.0 994.2 1485.3 994.7 C1490.6 995.3 1487.9 995.0 1493.2 995.5 C1498.5 996.1 1495.9 995.8 1501.2 996.4 C1506.5 997.0 1503.8 996.7 1509.1 997.3 C1514.4 998.0 1511.8 997.6 1517.1 998.3 C1522.3 998.9 1519.7 998.6 1525.0 999.3 C1530.3 1000.0 1527.6 999.6 1532.9 1000.4 C1538.2 1001.1 1535.5 1000.7 1540.8 1001.5 C1546.0 1002.2 1543.4 1001.8 1548.7 1002.6 C1553.9 1003.4 1551.3 1003.0 1556.5 1003.8 C1561.8 1004.7 1559.2 1004.2 1564.4 1005.1 C1569.6 1006.0 1567.0 1005.5 1572.3 1006.4 C1577.5 1007.3 1574.9 1006.9 1580.1 1007.8 C1585.3 1008.8 1582.7 1008.3 1587.9 1009.3 C1593.1 1010.2 1590.5 1009.7 1595.7 1010.8 C1600.9 1011.8 1598.3 1011.3 1603.5 1012.3 C1608.7 1013.4 1606.1 1012.9 1611.3 1014.0 C1616.5 1015.1 1613.9 1014.5 1619.1 1015.7 C1624.3 1016.8 1621.7 1016.2 1626.8 1017.4 C1632.0 1018.6 1629.4 1018.0 1634.6 1019.2 C1639.7 1020.5 1637.2 1019.8 1642.3 1021.1 C1647.5 1022.4 1644.9 1021.8 1650.0 1023.1 C1655.1 1024.4 1652.6 1023.7 1657.7 1025.1 C1662.8 1026.5 1660.3 1025.8 1665.4 1027.2 C1670.5 1028.7 1667.9 1027.9 1673.0 1029.4 C1678.1 1030.9 1675.6 1030.1 1680.7 1031.7 C1685.8 1033.2 1683.2 1032.4 1688.3 1034.0 C1693.4 1035.6 1690.9 1034.8 1695.9 1036.4 C1701.0 1038.0 1698.5 1037.2 1703.5 1038.9 C1708.6 1040.6 1706.0 1039.7 1711.1 1041.5 C1716.1 1043.2 1713.6 1042.3 1718.6 1044.1 C1723.7 1045.9 1721.1 1045.0 1726.2 1046.9 C1731.2 1048.7 1728.7 1047.8 1733.7 1049.7 C1738.7 1051.6 1736.2 1050.6 1741.2 1052.5 C1746.2 1054.5 1743.7 1053.5 1748.7 1055.5 C1753.6 1057.4 1751.1 1056.4 1756.1 1058.4 C1761.1 1060.4 1758.6 1059.4 1763.6 1061.4 C1768.6 1063.5 1766.1 1062.4 1771.1 1064.5 C1776.0 1066.5 1773.5 1065.5 1778.5 1067.5 C1783.5 1069.6 1781.0 1068.5 1786.0 1070.6 C1790.9 1072.6 1788.5 1071.6 1793.4 1073.6 C1798.4 1075.7 1795.9 1074.7 1800.9 1076.7 C1805.9 1078.7 1803.4 1077.7 1808.3 1079.7 C1813.3 1081.7 1810.8 1080.7 1815.8 1082.7 C1820.8 1084.7 1818.3 1083.7 1823.3 1085.7 C1828.3 1087.6 1825.8 1086.6 1830.8 1088.6 C1835.8 1090.5 1833.3 1089.5 1838.3 1091.4 C1843.3 1093.3 1840.8 1092.3 1845.8 1094.2 C1850.8 1096.0 1848.3 1095.1 1853.4 1096.9 C1858.4 1098.6 1855.9 1097.8 1860.9 1099.5 C1866.0 1101.2 1863.4 1100.4 1868.5 1102.1 C1873.5 1103.8 1871.0 1102.9 1876.1 1104.6 C1881.1 1106.2 1878.6 1105.4 1883.7 1107.0 C1888.8 1108.6 1886.2 1107.8 1891.3 1109.4 C1896.4 1111.0 1893.9 1110.2 1898.9 1111.8 C1904.0 1113.3 1901.5 1112.5 1906.6 1114.0 C1911.7 1115.6 1909.1 1114.8 1914.3 1116.3 C1919.4 1117.8 1916.8 1117.0 1921.9 1118.5 C1927.1 1119.9 1924.5 1119.2 1929.6 1120.6 C1934.8 1122.1 1932.2 1121.3 1937.3 1122.7 C1942.5 1124.1 1939.9 1123.4 1945.0 1124.8 C1950.2 1126.2 1947.6 1125.5 1952.8 1126.9 C1957.9 1128.2 1955.3 1127.5 1960.5 1128.9 C1965.7 1130.2 1963.1 1129.6 1968.2 1130.9 C1973.4 1132.2 1970.8 1131.5 1976.0 1132.9 C1981.2 1134.2 1978.6 1133.5 1983.7 1134.8 C1988.9 1136.1 1986.3 1135.5 1991.5 1136.8 C1996.7 1138.1 1994.1 1137.4 1999.3 1138.7 C2004.4 1140.0 2001.8 1139.4 2007.0 1140.7 C2012.2 1142.0 2009.6 1141.3 2014.8 1142.7 C2020.0 1144.0 2017.4 1143.3 2022.5 1144.6 C2027.7 1146.0 2025.1 1145.3 2030.3 1146.6 C2035.5 1148.0 2032.9 1147.3 2038.0 1148.6 C2043.2 1150.0 2040.6 1149.3 2045.8 1150.7 C2051.0 1152.0 2048.4 1151.4 2053.5 1152.7 C2058.7 1154.1 2056.1 1153.4 2061.3 1154.9 C2066.4 1156.3 2063.8 1155.6 2069.0 1157.0 C2074.1 1158.4 2071.5 1157.7 2076.7 1159.2 C2081.8 1160.7 2079.3 1159.9 2084.4 1161.4 C2089.5 1162.9 2086.9 1162.2 2092.1 1163.7 C2097.2 1165.3 2094.6 1164.5 2099.7 1166.1 C2104.8 1167.7 2102.3 1166.9 2107.4 1168.5 C2112.5 1170.1 2112.5 1170.2 2115.0 1171.0"/></g>
</g>
<circle cx="954" cy="835.5" r="16.5" fill="#ff0000"/>
<g fill="none" stroke="#000" stroke-width="5.5" stroke-linecap="round">
<path d="M1351.8 487.2 L1141.0 610.1" stroke-dasharray="13.2 25.23"/><path d="M1141.1 612.3 L1154.3 616.9"/><path d="M1176.7 627.9 L1454.0 778.2" stroke-dasharray="13.2 24.54"/>
</g>
<text class="tk" x="273.1" y="99.3" text-anchor="end">0.5</text>
<text class="tk" x="273.1" y="363.2" text-anchor="end">0.0</text>
<text class="tk" x="273.1" y="627.1" text-anchor="end">-0.5</text>
<text class="tk" x="273.1" y="891.1" text-anchor="end">-1.0</text>
<text class="tk" x="273.1" y="1155.0" text-anchor="end">-1.5</text>
<text class="tk" x="273.1" y="1418.9" text-anchor="end">-2.0</text>
<text class="tk" x="315.3" y="1500.1" text-anchor="middle">-9</text>
<text class="tk" x="671.9" y="1500.1" text-anchor="middle">-8</text>
<text class="tk" x="1028.5" y="1500.1" text-anchor="middle">-7</text>
<text class="tk" x="1385.1" y="1500.1" text-anchor="middle">-6</text>
<text class="tk" x="1741.7" y="1500.1" text-anchor="middle">-5</text>
<text class="tk" x="2098.3" y="1500.1" text-anchor="middle">-4</text>
<text class="ax" transform="translate(112.3 728.8) rotate(-90)" text-anchor="middle">E (V vs. SCE)</text>
<text style="font-size:106px" y="1615"><tspan x="884.68">log</tspan> <tspan x="1044.136">(i/A</tspan><tspan x="1214.851">·</tspan><tspan x="1248.196">cm</tspan><tspan x="1376.6" y="1563.6" font-size="65">−</tspan><tspan x="1410.2" y="1556.9" font-size="67">2</tspan><tspan x="1442.408" y="1615">)</tspan></text>
<path d="M649.4 184.9 H831.0" stroke="#008080" stroke-width="18" stroke-linecap="round" fill="none"/>
<path d="M972.7 184.9 H1155.1" stroke="#0000ff" stroke-width="18" stroke-linecap="round" fill="none"/>
<path d="M649.4 289.0 H831.0" stroke="#00ff00" stroke-width="18" stroke-linecap="round" fill="none"/>
<path d="M972.7 289.0 H1155.1" stroke="#ff0000" stroke-width="18" stroke-linecap="round" fill="none"/>
<path d="M649.4 392.2 H831.0" stroke="#000000" stroke-width="18" stroke-linecap="round" fill="none"/>
<text class="lb" x="850.5" y="210.6">C4</text>
<text class="lb" x="1174.0" y="210.6">C3</text>
<text class="lb" x="850.5" y="315.0">C2</text>
<text class="lb" x="1174.0" y="315.0">C1</text>
<text class="lb" x="851.2" y="418.0">Substrate</text>
<text class="lb" x="413.4" y="468.5">C3</text>
<text class="lb" x="364.6" y="694.5">C4</text>
<text class="lb" x="678.5" y="736.5">C2</text>
<text class="lb" x="763.4" y="858.0">C1</text>
<text class="lb" x="686.1" y="1011.2">Substrate</text>
</svg></body></html>
